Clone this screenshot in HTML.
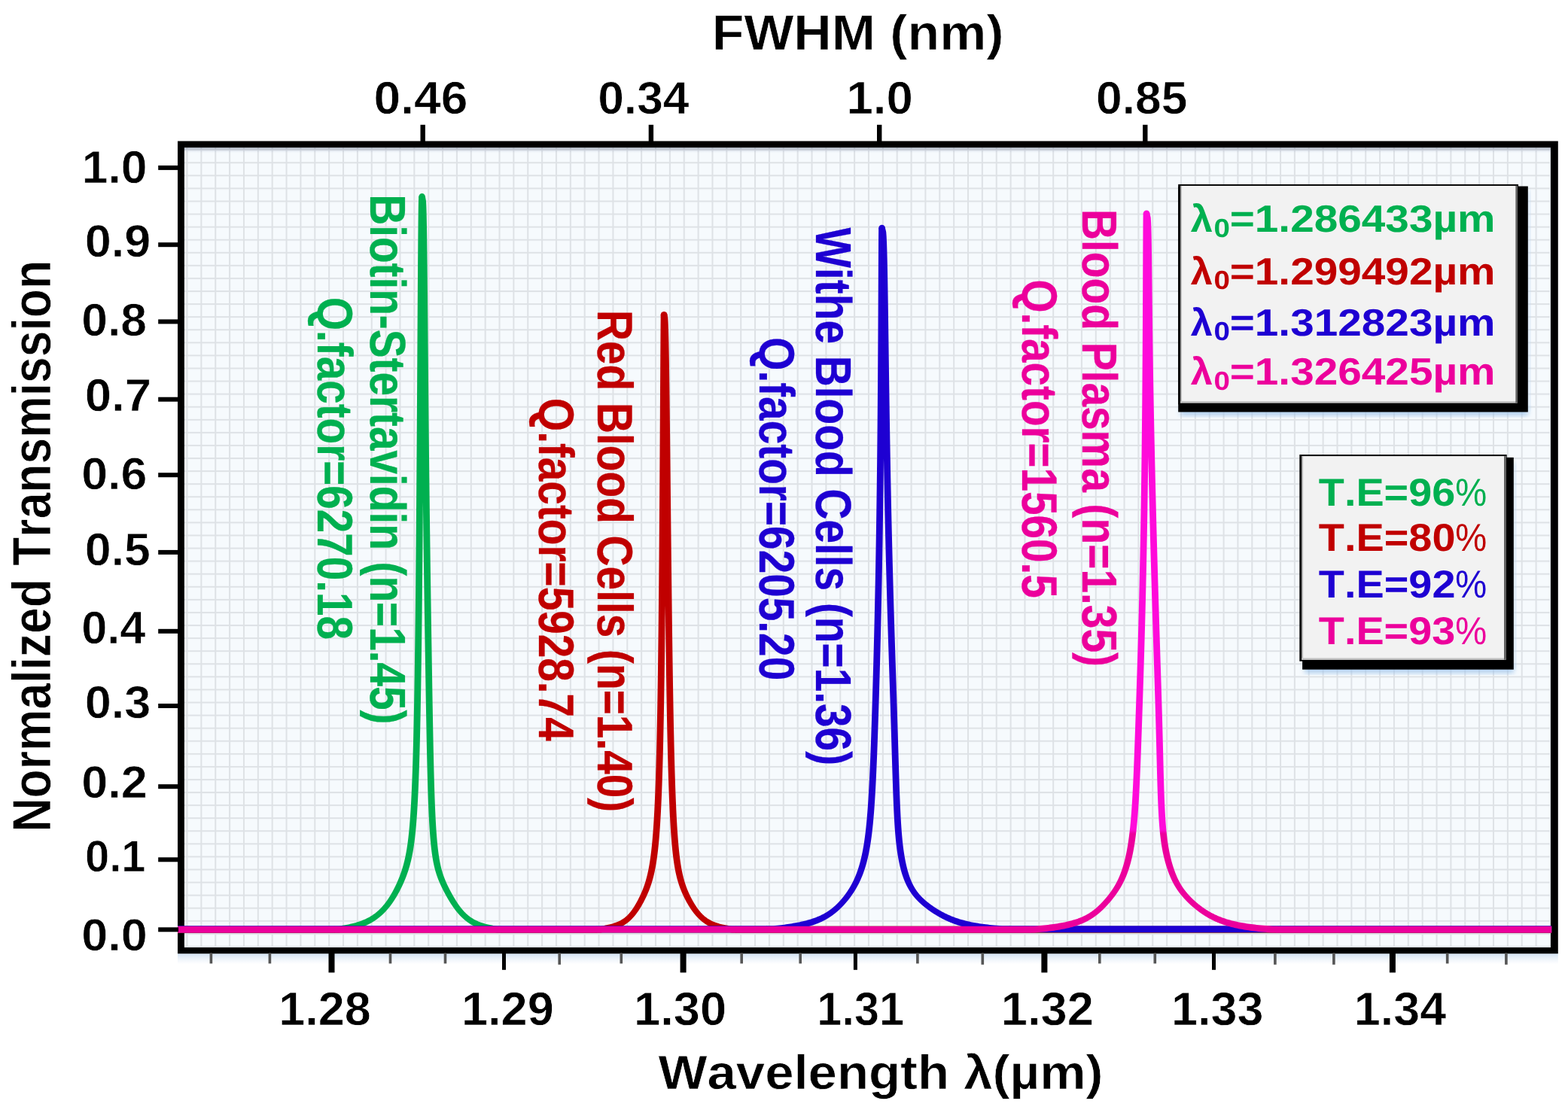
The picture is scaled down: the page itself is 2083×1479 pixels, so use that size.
<!DOCTYPE html>
<html lang="en"><head><meta charset="utf-8"><title>Normalized Transmission vs Wavelength</title>
<style>html,body{margin:0;padding:0;background:#fff;}body{width:2083px;height:1479px;overflow:hidden;}svg{display:block;}text{font-family:"Liberation Sans",Arial,sans-serif;font-size:100px;white-space:pre;font-kerning:none;font-variant-ligatures:none;text-rendering:geometricPrecision;}</style>
</head><body>
<svg width="2083" height="1479" viewBox="0 0 2083 1479">
<defs>
<pattern id="grid" x="247.5" y="215.25" width="18.864" height="17.078" patternUnits="userSpaceOnUse">
<rect x="0" y="0" width="18.864" height="17.078" fill="#F6FAFD"/>
<rect x="0" y="0" width="2" height="17.078" fill="#DEE2E6"/><rect x="0" y="0" width="18.864" height="2" fill="#DEE2E6"/>
</pattern>
<linearGradient id="topsh" x1="0" y1="0" x2="0" y2="1"><stop offset="0" stop-color="#5a6478" stop-opacity="0.55"/><stop offset="0.45" stop-color="#7a88a8" stop-opacity="0.18"/><stop offset="1" stop-color="#8aa0d0" stop-opacity="0"/></linearGradient>
<linearGradient id="botsh" x1="0" y1="0" x2="0" y2="1"><stop offset="0" stop-color="#cfe0f2" stop-opacity="0.9"/><stop offset="1" stop-color="#dfeaf6" stop-opacity="0"/></linearGradient>
<linearGradient id="magg" gradientUnits="userSpaceOnUse" x1="0" y1="1102" x2="0" y2="1108"><stop offset="0" stop-color="#FF0ADA"/><stop offset="1" stop-color="#EC009C"/></linearGradient>
<clipPath id="plotclip"><rect x="236" y="189.6" width="1829.8" height="1075.7"/></clipPath>
<filter id="soft" x="-5%" y="-5%" width="110%" height="120%"><feGaussianBlur stdDeviation="3"/></filter>
</defs>
<rect width="2083" height="1479" fill="#fff"/>
<rect x="236" y="1267.3" width="1833.8" height="14" fill="url(#botsh)"/>
<rect x="238" y="189.6" width="1829.8" height="1075.7" fill="url(#grid)"/>
<rect x="238" y="196.1" width="1829.8" height="7" fill="url(#topsh)"/>
<path fill="#000" fill-rule="evenodd" d="M236 187.6H2069.8V1267.3H236Z M244.9 196H2060V1258.9H244.9Z"/>
<g clip-path="url(#plotclip)">
<g fill="#00B050">
<rect x="236" y="1230.8" width="208.83" height="8.8"/>
<rect x="665.39" y="1230.8" width="1395.81" height="8.8"/>
<circle cx="560.6" cy="261.5" r="4.4"/>
<path d="M556.21 261.32 L555.97 267.30 L555.85 273.28 L555.76 279.22 L555.68 285.15 L555.62 291.08 L555.55 297.01 L555.50 302.94 L555.44 308.87 L555.39 314.80 L555.34 320.72 L555.30 326.65 L555.25 332.58 L555.21 338.50 L555.16 344.43 L555.12 350.36 L555.08 356.28 L555.04 362.21 L555.00 368.14 L554.96 374.06 L554.92 379.99 L554.88 385.92 L554.85 391.84 L554.81 397.77 L554.77 403.69 L554.73 409.62 L554.70 415.55 L554.66 421.47 L554.63 427.40 L554.59 433.32 L554.55 439.25 L554.52 445.18 L554.48 451.10 L554.45 457.03 L554.41 462.95 L554.38 468.88 L554.34 474.81 L554.31 480.73 L554.27 486.66 L554.23 492.58 L554.20 498.51 L554.16 504.44 L554.13 510.36 L554.09 516.29 L554.05 522.21 L554.02 528.14 L553.98 534.06 L553.95 539.99 L553.91 545.92 L553.87 551.84 L553.83 557.77 L553.80 563.69 L553.76 569.62 L553.72 575.54 L553.68 581.47 L553.65 587.40 L553.61 593.32 L553.57 599.25 L553.53 605.17 L553.49 611.10 L553.45 617.02 L553.41 622.95 L553.37 628.88 L553.33 634.80 L553.28 640.73 L553.24 646.65 L553.20 652.58 L553.16 658.50 L553.11 664.43 L553.07 670.35 L553.02 676.28 L552.98 682.21 L552.93 688.13 L552.89 694.06 L552.84 699.98 L552.79 705.91 L552.75 711.83 L552.70 717.76 L552.65 723.68 L552.60 729.61 L552.55 735.53 L552.49 741.46 L552.44 747.38 L552.39 753.31 L552.33 759.23 L552.28 765.16 L552.22 771.09 L552.17 777.01 L552.11 782.94 L552.05 788.86 L551.99 794.79 L551.93 800.71 L551.87 806.64 L551.80 812.56 L551.74 818.49 L551.67 824.41 L551.60 830.34 L551.53 836.26 L551.46 842.19 L551.39 848.11 L551.32 854.03 L551.24 859.96 L551.16 865.88 L551.08 871.81 L551.00 877.73 L550.92 883.66 L550.83 889.58 L550.75 895.51 L550.66 901.43 L550.56 907.35 L550.47 913.28 L550.37 919.20 L550.27 925.12 L550.17 931.05 L550.06 936.97 L549.95 942.89 L549.83 948.82 L549.71 954.74 L549.59 960.66 L549.46 966.59 L549.33 972.51 L549.19 978.43 L549.05 984.35 L548.90 990.27 L548.74 996.19 L548.58 1002.11 L548.40 1008.03 L548.22 1013.95 L548.03 1019.87 L547.84 1025.79 L547.62 1031.71 L547.40 1037.62 L547.16 1043.54 L546.91 1049.45 L546.64 1055.36 L546.36 1061.27 L546.05 1067.18 L545.71 1073.09 L545.35 1078.99 L544.95 1084.90 L544.89 1085.79 L544.83 1086.69 L544.76 1087.58 L544.70 1088.48 L544.63 1089.37 L544.56 1090.27 L544.50 1091.17 L544.43 1092.06 L544.35 1092.96 L544.28 1093.85 L544.21 1094.75 L544.14 1095.65 L544.06 1096.54 L543.99 1097.44 L543.91 1098.33 L543.83 1099.23 L543.75 1100.12 L543.67 1101.01 L543.59 1101.91 L543.50 1102.80 L543.42 1103.70 L543.33 1104.59 L543.24 1105.48 L543.15 1106.38 L543.06 1107.27 L542.97 1108.16 L542.87 1109.06 L542.78 1109.95 L542.68 1110.84 L542.58 1111.73 L542.48 1112.63 L542.38 1113.52 L542.27 1114.41 L542.16 1115.30 L542.06 1116.19 L541.94 1117.08 L541.83 1117.97 L541.72 1118.86 L541.60 1119.75 L541.48 1120.64 L541.36 1121.53 L541.23 1122.42 L541.10 1123.31 L540.97 1124.19 L540.84 1125.08 L540.70 1125.97 L540.57 1126.86 L540.43 1127.74 L540.28 1128.63 L540.18 1129.22 L540.08 1129.81 L539.98 1130.40 L539.88 1130.99 L539.78 1131.58 L539.67 1132.17 L539.57 1132.76 L539.46 1133.35 L539.35 1133.94 L539.24 1134.53 L539.12 1135.12 L539.01 1135.70 L538.89 1136.29 L538.78 1136.88 L538.66 1137.47 L538.53 1138.06 L538.41 1138.65 L538.29 1139.23 L538.16 1139.82 L538.03 1140.41 L537.90 1141.00 L537.77 1141.59 L537.63 1142.17 L537.50 1142.76 L537.36 1143.35 L537.22 1143.93 L537.07 1144.52 L536.93 1145.11 L536.78 1145.69 L536.63 1146.28 L536.48 1146.87 L536.33 1147.45 L536.17 1148.04 L536.01 1148.63 L535.85 1149.21 L535.69 1149.80 L535.53 1150.39 L535.36 1150.97 L535.19 1151.56 L535.02 1152.15 L534.85 1152.73 L534.67 1153.32 L534.49 1153.90 L534.31 1154.49 L534.12 1155.08 L533.94 1155.66 L533.75 1156.25 L533.56 1156.84 L533.36 1157.42 L533.17 1158.01 L532.97 1158.60 L532.77 1159.18 L532.56 1159.77 L532.36 1160.36 L532.15 1160.94 L531.94 1161.53 L531.72 1162.12 L531.50 1162.71 L531.28 1163.29 L531.06 1163.88 L530.84 1164.47 L530.61 1165.06 L530.38 1165.64 L530.15 1166.23 L529.91 1166.82 L529.68 1167.41 L529.44 1167.99 L529.19 1168.58 L528.95 1169.17 L528.70 1169.76 L528.45 1170.35 L528.20 1170.94 L527.94 1171.52 L527.68 1172.11 L527.42 1172.70 L527.16 1173.29 L526.89 1173.88 L526.62 1174.47 L526.35 1175.05 L526.08 1175.64 L525.80 1176.23 L525.52 1176.82 L525.24 1177.41 L524.95 1178.00 L524.66 1178.58 L524.37 1179.17 L524.08 1179.76 L523.78 1180.35 L523.48 1180.94 L523.18 1181.53 L522.87 1182.11 L522.57 1182.70 L522.25 1183.29 L521.94 1183.88 L521.62 1184.46 L521.30 1185.05 L520.97 1185.64 L520.65 1186.22 L520.31 1186.81 L519.98 1187.40 L519.64 1187.98 L519.30 1188.57 L518.95 1189.15 L518.60 1189.74 L518.25 1190.33 L517.89 1190.91 L517.53 1191.50 L517.16 1192.08 L516.79 1192.66 L516.41 1193.25 L516.03 1193.83 L515.65 1194.42 L515.26 1195.00 L514.86 1195.58 L514.46 1196.16 L514.06 1196.75 L513.64 1197.33 L513.23 1197.91 L512.80 1198.49 L512.37 1199.07 L511.94 1199.65 L511.49 1200.23 L511.04 1200.81 L510.58 1201.39 L510.12 1201.96 L509.64 1202.54 L509.16 1203.12 L508.67 1203.69 L508.17 1204.27 L507.67 1204.85 L507.15 1205.42 L506.62 1205.99 L506.08 1206.57 L505.53 1207.14 L504.97 1207.71 L504.39 1208.28 L503.81 1208.85 L503.21 1209.42 L502.59 1209.99 L501.96 1210.56 L501.32 1211.12 L500.66 1211.69 L499.98 1212.25 L499.28 1212.82 L498.57 1213.38 L497.83 1213.94 L497.06 1214.51 L496.68 1214.78 L496.29 1215.06 L495.89 1215.34 L495.48 1215.62 L495.07 1215.90 L494.65 1216.18 L494.23 1216.46 L493.79 1216.74 L493.35 1217.02 L492.90 1217.30 L492.45 1217.57 L491.98 1217.85 L491.51 1218.13 L491.03 1218.41 L490.54 1218.68 L490.04 1218.96 L489.53 1219.24 L489.01 1219.52 L488.48 1219.79 L487.93 1220.07 L487.38 1220.35 L486.82 1220.62 L486.24 1220.90 L485.65 1221.17 L485.04 1221.45 L484.42 1221.73 L483.79 1222.00 L483.14 1222.28 L482.47 1222.56 L481.79 1222.83 L481.09 1223.11 L480.37 1223.39 L479.63 1223.67 L478.87 1223.94 L478.09 1224.22 L477.29 1224.50 L476.46 1224.78 L475.60 1225.06 L474.72 1225.34 L473.81 1225.62 L472.87 1225.89 L471.89 1226.18 L470.88 1226.46 L469.84 1226.74 L468.75 1227.02 L467.62 1227.30 L466.45 1227.58 L465.22 1227.87 L463.95 1228.15 L462.62 1228.44 L461.22 1228.72 L459.76 1229.01 L458.23 1229.29 L456.62 1229.58 L454.92 1229.87 L453.13 1230.16 L451.23 1230.45 L449.59 1230.66 L443.72 1230.80 L443.94 1239.60 L450.08 1239.44 L452.53 1239.05 L454.50 1238.74 L456.37 1238.43 L458.14 1238.12 L459.82 1237.80 L461.42 1237.49 L462.96 1237.17 L464.42 1236.86 L465.83 1236.54 L467.18 1236.23 L468.47 1235.91 L469.72 1235.59 L470.92 1235.27 L472.08 1234.95 L473.19 1234.63 L474.27 1234.32 L475.32 1233.99 L476.33 1233.67 L477.31 1233.35 L478.26 1233.03 L479.18 1232.71 L480.07 1232.39 L480.94 1232.06 L481.79 1231.74 L482.61 1231.42 L483.42 1231.10 L484.20 1230.77 L484.96 1230.45 L485.70 1230.12 L486.43 1229.80 L487.14 1229.48 L487.83 1229.15 L488.50 1228.83 L489.16 1228.50 L489.81 1228.18 L490.44 1227.86 L491.06 1227.53 L491.67 1227.21 L492.26 1226.88 L492.85 1226.56 L493.42 1226.24 L493.98 1225.91 L494.53 1225.59 L495.07 1225.27 L495.60 1224.94 L496.12 1224.62 L496.63 1224.30 L497.13 1223.98 L497.62 1223.65 L498.11 1223.33 L498.58 1223.01 L499.05 1222.69 L499.51 1222.36 L499.97 1222.04 L500.42 1221.72 L500.86 1221.40 L501.29 1221.08 L501.73 1220.75 L502.55 1220.12 L503.36 1219.48 L504.15 1218.84 L504.92 1218.21 L505.67 1217.57 L506.40 1216.93 L507.11 1216.30 L507.81 1215.67 L508.48 1215.03 L509.15 1214.40 L509.79 1213.77 L510.43 1213.14 L511.05 1212.51 L511.65 1211.88 L512.25 1211.25 L512.83 1210.63 L513.40 1210.00 L513.96 1209.37 L514.51 1208.75 L515.05 1208.12 L515.58 1207.50 L516.10 1206.87 L516.61 1206.25 L517.12 1205.63 L517.61 1205.01 L518.10 1204.38 L518.58 1203.76 L519.05 1203.14 L519.51 1202.52 L519.97 1201.90 L520.42 1201.28 L520.87 1200.66 L521.30 1200.04 L521.73 1199.43 L522.16 1198.81 L522.58 1198.19 L522.99 1197.57 L523.40 1196.96 L523.81 1196.34 L524.20 1195.72 L524.60 1195.11 L524.99 1194.49 L525.37 1193.87 L525.75 1193.26 L526.12 1192.64 L526.49 1192.03 L526.86 1191.41 L527.22 1190.80 L527.58 1190.18 L527.93 1189.57 L528.28 1188.95 L528.63 1188.34 L528.97 1187.73 L529.31 1187.11 L529.65 1186.50 L529.98 1185.88 L530.31 1185.27 L530.63 1184.66 L530.96 1184.05 L531.28 1183.43 L531.59 1182.82 L531.90 1182.21 L532.21 1181.59 L532.52 1180.98 L532.82 1180.37 L533.13 1179.75 L533.42 1179.14 L533.72 1178.53 L534.01 1177.92 L534.30 1177.30 L534.59 1176.69 L534.87 1176.08 L535.15 1175.47 L535.43 1174.85 L535.70 1174.24 L535.98 1173.63 L536.25 1173.01 L536.51 1172.40 L536.78 1171.79 L537.04 1171.17 L537.30 1170.56 L537.56 1169.95 L537.81 1169.33 L538.06 1168.72 L538.31 1168.11 L538.56 1167.49 L538.80 1166.88 L539.04 1166.27 L539.28 1165.65 L539.52 1165.04 L539.75 1164.42 L539.98 1163.81 L540.21 1163.20 L540.43 1162.58 L540.66 1161.97 L540.88 1161.35 L541.09 1160.74 L541.31 1160.12 L541.52 1159.51 L541.73 1158.90 L541.94 1158.28 L542.14 1157.67 L542.34 1157.05 L542.54 1156.44 L542.74 1155.82 L542.93 1155.21 L543.12 1154.59 L543.31 1153.98 L543.50 1153.36 L543.68 1152.75 L543.86 1152.13 L544.04 1151.52 L544.21 1150.90 L544.39 1150.29 L544.56 1149.67 L544.72 1149.06 L544.89 1148.44 L545.05 1147.83 L545.21 1147.21 L545.37 1146.60 L545.53 1145.99 L545.68 1145.37 L545.83 1144.76 L545.98 1144.14 L546.13 1143.53 L546.27 1142.92 L546.42 1142.30 L546.56 1141.69 L546.69 1141.08 L546.83 1140.46 L546.96 1139.85 L547.10 1139.24 L547.23 1138.62 L547.35 1138.01 L547.48 1137.40 L547.60 1136.79 L547.72 1136.17 L547.84 1135.56 L547.96 1134.95 L548.08 1134.34 L548.19 1133.73 L548.31 1133.11 L548.42 1132.50 L548.53 1131.89 L548.63 1131.28 L548.74 1130.67 L548.85 1130.06 L549.00 1129.14 L549.15 1128.23 L549.30 1127.31 L549.44 1126.40 L549.58 1125.49 L549.72 1124.57 L549.85 1123.66 L549.99 1122.75 L550.11 1121.83 L550.24 1120.92 L550.37 1120.01 L550.49 1119.10 L550.61 1118.18 L550.72 1117.27 L550.84 1116.36 L550.95 1115.45 L551.06 1114.54 L551.16 1113.63 L551.27 1112.72 L551.37 1111.81 L551.47 1110.90 L551.57 1109.99 L551.67 1109.08 L551.77 1108.17 L551.86 1107.27 L551.95 1106.36 L552.05 1105.45 L552.14 1104.54 L552.22 1103.63 L552.31 1102.73 L552.39 1101.82 L552.48 1100.91 L552.56 1100.00 L552.64 1099.10 L552.72 1098.19 L552.80 1097.28 L552.88 1096.38 L552.95 1095.47 L553.03 1094.56 L553.10 1093.66 L553.17 1092.75 L553.24 1091.85 L553.31 1090.94 L553.38 1090.03 L553.45 1089.13 L553.52 1088.22 L553.58 1087.32 L553.65 1086.41 L553.71 1085.50 L554.11 1079.56 L554.48 1073.61 L554.82 1067.66 L555.13 1061.72 L555.42 1055.78 L555.70 1049.84 L555.95 1043.90 L556.19 1037.96 L556.41 1032.03 L556.62 1026.09 L556.83 1020.16 L557.02 1014.23 L557.20 1008.29 L557.37 1002.36 L557.53 996.43 L557.69 990.50 L557.84 984.57 L557.98 978.64 L558.12 972.71 L558.26 966.78 L558.38 960.85 L558.51 954.92 L558.63 948.99 L558.74 943.06 L558.85 937.13 L558.96 931.21 L559.07 925.28 L559.17 919.35 L559.27 913.42 L559.36 907.49 L559.45 901.57 L559.55 895.64 L559.63 889.71 L559.72 883.78 L559.80 877.85 L559.88 871.93 L559.96 866.00 L560.04 860.07 L560.12 854.15 L560.19 848.22 L560.26 842.29 L560.33 836.36 L560.40 830.44 L560.47 824.51 L560.54 818.58 L560.60 812.66 L560.66 806.73 L560.73 800.80 L560.79 794.88 L560.85 788.95 L560.91 783.02 L560.97 777.10 L561.02 771.17 L561.08 765.24 L561.13 759.32 L561.19 753.39 L561.24 747.46 L561.29 741.54 L561.35 735.61 L561.40 729.68 L561.45 723.76 L561.50 717.83 L561.54 711.90 L561.59 705.98 L561.64 700.05 L561.69 694.13 L561.73 688.20 L561.78 682.27 L561.82 676.35 L561.87 670.42 L561.91 664.49 L561.96 658.57 L562.00 652.64 L562.04 646.71 L562.08 640.79 L562.13 634.86 L562.17 628.94 L562.21 623.01 L562.25 617.08 L562.29 611.16 L562.33 605.23 L562.37 599.31 L562.41 593.38 L562.45 587.45 L562.48 581.53 L562.52 575.60 L562.56 569.67 L562.60 563.75 L562.63 557.82 L562.67 551.90 L562.71 545.97 L562.75 540.04 L562.78 534.12 L562.82 528.19 L562.85 522.27 L562.89 516.34 L562.93 510.41 L562.96 504.49 L563.00 498.56 L563.03 492.64 L563.07 486.71 L563.10 480.78 L563.14 474.86 L563.18 468.93 L563.21 463.01 L563.25 457.08 L563.28 451.16 L563.32 445.23 L563.35 439.30 L563.39 433.38 L563.43 427.45 L563.46 421.53 L563.50 415.60 L563.53 409.67 L563.57 403.75 L563.61 397.82 L563.64 391.90 L563.68 385.97 L563.72 380.05 L563.76 374.12 L563.80 368.20 L563.84 362.27 L563.88 356.34 L563.92 350.42 L563.96 344.49 L564.00 338.57 L564.05 332.64 L564.09 326.72 L564.14 320.79 L564.19 314.87 L564.24 308.95 L564.30 303.02 L564.35 297.10 L564.42 291.18 L564.48 285.26 L564.56 279.34 L564.65 273.43 L564.76 267.56 L564.99 261.68Z M556.33 262.25 L557.30 267.91 L557.53 273.53 L557.72 279.41 L557.88 285.31 L558.01 291.22 L558.12 297.14 L558.22 303.05 L558.31 308.97 L558.40 314.89 L558.48 320.82 L558.55 326.74 L558.62 332.66 L558.69 338.59 L558.76 344.51 L558.82 350.43 L558.88 356.36 L558.94 362.28 L559.00 368.21 L559.05 374.13 L559.11 380.06 L559.16 385.98 L559.22 391.91 L559.27 397.83 L559.32 403.76 L559.37 409.69 L559.43 415.61 L559.48 421.54 L559.53 427.46 L559.58 433.39 L559.63 439.31 L559.68 445.24 L559.73 451.17 L559.78 457.09 L559.83 463.02 L559.89 468.94 L559.94 474.87 L559.99 480.80 L560.04 486.72 L560.09 492.65 L560.15 498.58 L560.20 504.50 L560.25 510.43 L560.31 516.35 L560.36 522.28 L560.42 528.21 L560.47 534.13 L560.53 540.06 L560.58 545.99 L560.64 551.91 L560.70 557.84 L560.76 563.76 L560.82 569.69 L560.88 575.62 L560.94 581.54 L561.00 587.47 L561.06 593.40 L561.12 599.32 L561.18 605.25 L561.25 611.18 L561.31 617.10 L561.38 623.03 L561.44 628.96 L561.51 634.88 L561.58 640.81 L561.65 646.73 L561.72 652.66 L561.79 658.59 L561.86 664.51 L561.93 670.44 L562.00 676.37 L562.07 682.29 L562.15 688.22 L562.22 694.15 L562.30 700.07 L562.38 706.00 L562.45 711.93 L562.53 717.85 L562.61 723.78 L562.69 729.71 L562.77 735.63 L562.85 741.56 L562.94 747.49 L563.02 753.41 L563.10 759.34 L563.19 765.26 L563.27 771.19 L563.36 777.12 L563.45 783.04 L563.54 788.97 L563.62 794.90 L563.71 800.82 L563.80 806.75 L563.89 812.68 L563.98 818.60 L564.08 824.53 L564.17 830.45 L564.26 836.38 L564.35 842.31 L564.44 848.23 L564.54 854.16 L564.63 860.08 L564.72 866.01 L564.82 871.94 L564.91 877.86 L565.01 883.79 L565.10 889.72 L565.20 895.64 L565.29 901.57 L565.39 907.50 L565.49 913.42 L565.58 919.35 L565.68 925.27 L565.78 931.20 L565.89 937.13 L565.99 943.06 L566.09 948.98 L566.20 954.91 L566.31 960.84 L566.42 966.76 L566.53 972.69 L566.64 978.62 L566.76 984.55 L566.88 990.48 L567.00 996.40 L567.13 1002.33 L567.26 1008.26 L567.40 1014.19 L567.54 1020.12 L567.69 1026.05 L567.84 1031.98 L568.00 1037.92 L568.17 1043.85 L568.35 1049.78 L568.55 1055.72 L568.75 1061.65 L568.97 1067.59 L569.21 1073.53 L569.46 1079.47 L569.74 1085.41 L569.79 1086.32 L569.83 1087.22 L569.88 1088.13 L569.93 1089.03 L569.98 1089.94 L570.02 1090.84 L570.07 1091.75 L570.12 1092.65 L570.17 1093.55 L570.22 1094.46 L570.28 1095.36 L570.33 1096.27 L570.38 1097.17 L570.44 1098.08 L570.49 1098.98 L570.55 1099.89 L570.61 1100.80 L570.67 1101.70 L570.73 1102.61 L570.79 1103.51 L570.85 1104.42 L570.91 1105.33 L570.98 1106.23 L571.04 1107.14 L571.11 1108.04 L571.18 1108.95 L571.25 1109.86 L571.32 1110.77 L571.39 1111.67 L571.46 1112.58 L571.54 1113.49 L571.61 1114.40 L571.69 1115.30 L571.77 1116.21 L571.85 1117.12 L571.93 1118.03 L572.02 1118.94 L572.10 1119.85 L572.19 1120.76 L572.28 1121.67 L572.37 1122.58 L572.47 1123.49 L572.56 1124.40 L572.66 1125.31 L572.76 1126.22 L572.87 1127.13 L572.97 1128.04 L573.08 1128.96 L573.19 1129.87 L573.30 1130.78 L573.42 1131.70 L573.54 1132.61 L573.66 1133.53 L573.79 1134.44 L573.92 1135.36 L574.05 1136.27 L574.19 1137.19 L574.32 1138.10 L574.47 1139.02 L574.62 1139.94 L574.77 1140.86 L574.87 1141.47 L574.98 1142.08 L575.08 1142.70 L575.19 1143.31 L575.30 1143.92 L575.42 1144.54 L575.53 1145.15 L575.65 1145.77 L575.77 1146.38 L575.90 1147.00 L576.02 1147.61 L576.15 1148.23 L576.28 1148.85 L576.41 1149.46 L576.55 1150.08 L576.69 1150.70 L576.83 1151.31 L576.98 1151.93 L577.13 1152.55 L577.28 1153.17 L577.43 1153.79 L577.59 1154.41 L577.75 1155.02 L577.91 1155.64 L578.08 1156.26 L578.25 1156.88 L578.43 1157.50 L578.60 1158.12 L578.78 1158.74 L578.97 1159.36 L579.16 1159.98 L579.35 1160.61 L579.55 1161.23 L579.75 1161.85 L579.95 1162.47 L580.16 1163.09 L580.37 1163.71 L580.59 1164.33 L580.81 1164.95 L581.03 1165.57 L581.26 1166.19 L581.49 1166.81 L581.72 1167.43 L581.96 1168.05 L582.20 1168.67 L582.45 1169.29 L582.70 1169.91 L582.95 1170.53 L583.21 1171.15 L583.47 1171.76 L583.73 1172.38 L584.00 1173.00 L584.27 1173.61 L584.54 1174.23 L584.82 1174.85 L585.10 1175.46 L585.38 1176.08 L585.67 1176.69 L585.95 1177.30 L586.24 1177.92 L586.54 1178.53 L586.83 1179.14 L587.13 1179.76 L587.43 1180.37 L587.73 1180.98 L588.04 1181.59 L588.35 1182.20 L588.66 1182.81 L588.97 1183.42 L589.28 1184.04 L589.60 1184.65 L589.92 1185.26 L590.24 1185.87 L590.56 1186.48 L590.89 1187.09 L591.22 1187.70 L591.55 1188.31 L591.88 1188.91 L592.22 1189.52 L592.55 1190.13 L592.89 1190.74 L593.24 1191.35 L593.58 1191.96 L593.93 1192.57 L594.28 1193.18 L594.63 1193.80 L594.99 1194.41 L595.35 1195.02 L595.71 1195.63 L596.08 1196.24 L596.45 1196.85 L596.82 1197.46 L597.19 1198.07 L597.57 1198.69 L597.96 1199.30 L598.34 1199.91 L598.73 1200.53 L599.13 1201.14 L599.53 1201.76 L599.93 1202.37 L600.34 1202.99 L600.76 1203.60 L601.18 1204.22 L601.60 1204.83 L602.03 1205.45 L602.47 1206.07 L602.91 1206.69 L603.36 1207.31 L603.82 1207.93 L604.28 1208.55 L604.75 1209.17 L605.23 1209.79 L605.72 1210.41 L606.21 1211.03 L606.71 1211.66 L607.23 1212.28 L607.75 1212.91 L608.28 1213.53 L608.82 1214.16 L609.38 1214.79 L609.95 1215.41 L610.52 1216.04 L611.12 1216.68 L611.72 1217.31 L612.34 1217.94 L612.98 1218.57 L613.63 1219.21 L614.30 1219.85 L614.99 1220.48 L615.70 1221.12 L616.43 1221.77 L617.18 1222.41 L617.95 1223.05 L618.76 1223.70 L619.57 1224.33 L620.01 1224.67 L620.44 1224.99 L620.88 1225.32 L621.33 1225.64 L621.79 1225.97 L622.26 1226.30 L622.74 1226.62 L623.22 1226.95 L623.72 1227.28 L624.23 1227.61 L624.75 1227.93 L625.28 1228.26 L625.82 1228.59 L626.38 1228.92 L626.95 1229.25 L627.53 1229.58 L628.13 1229.91 L628.74 1230.24 L629.37 1230.57 L630.02 1230.90 L630.69 1231.23 L631.37 1231.56 L632.08 1231.89 L632.80 1232.22 L633.56 1232.55 L634.33 1232.88 L635.13 1233.21 L635.96 1233.54 L636.82 1233.87 L637.71 1234.20 L638.64 1234.53 L639.60 1234.86 L640.60 1235.19 L641.65 1235.51 L642.74 1235.84 L643.89 1236.17 L645.09 1236.49 L646.36 1236.82 L647.69 1237.14 L649.10 1237.46 L650.59 1237.78 L652.18 1238.10 L653.88 1238.42 L655.69 1238.74 L657.66 1239.05 L660.14 1239.44 L666.28 1239.60 L666.49 1230.80 L660.63 1230.66 L658.95 1230.45 L657.10 1230.16 L655.38 1229.88 L653.78 1229.60 L652.29 1229.32 L650.90 1229.04 L649.59 1228.76 L648.36 1228.48 L647.19 1228.20 L646.09 1227.93 L645.04 1227.65 L644.04 1227.38 L643.08 1227.10 L642.17 1226.83 L641.30 1226.56 L640.46 1226.29 L639.65 1226.02 L638.88 1225.75 L638.13 1225.47 L637.41 1225.20 L636.72 1224.93 L636.04 1224.66 L635.39 1224.39 L634.76 1224.12 L634.15 1223.85 L633.55 1223.58 L632.98 1223.31 L632.41 1223.04 L631.87 1222.77 L631.33 1222.50 L630.82 1222.23 L630.31 1221.96 L629.81 1221.69 L629.33 1221.42 L628.86 1221.15 L628.40 1220.87 L627.95 1220.60 L627.50 1220.33 L627.07 1220.05 L626.65 1219.78 L626.23 1219.51 L625.82 1219.23 L625.42 1218.96 L625.03 1218.68 L624.65 1218.40 L624.28 1218.14 L623.53 1217.57 L622.82 1217.02 L622.13 1216.46 L621.46 1215.90 L620.81 1215.34 L620.18 1214.78 L619.56 1214.22 L618.96 1213.65 L618.38 1213.09 L617.81 1212.52 L617.26 1211.95 L616.71 1211.38 L616.18 1210.81 L615.66 1210.24 L615.15 1209.67 L614.65 1209.09 L614.16 1208.52 L613.68 1207.95 L613.21 1207.37 L612.75 1206.79 L612.29 1206.21 L611.84 1205.64 L611.40 1205.06 L610.96 1204.48 L610.53 1203.90 L610.11 1203.32 L609.69 1202.73 L609.28 1202.15 L608.87 1201.57 L608.47 1200.99 L608.07 1200.40 L607.68 1199.82 L607.29 1199.23 L606.91 1198.65 L606.53 1198.06 L606.15 1197.47 L605.78 1196.89 L605.41 1196.30 L605.04 1195.71 L604.68 1195.12 L604.32 1194.54 L603.97 1193.95 L603.61 1193.36 L603.26 1192.77 L602.91 1192.18 L602.57 1191.59 L602.23 1191.00 L601.89 1190.41 L601.55 1189.82 L601.22 1189.23 L600.88 1188.64 L600.55 1188.05 L600.23 1187.45 L599.90 1186.86 L599.58 1186.27 L599.26 1185.68 L598.94 1185.09 L598.62 1184.50 L598.31 1183.91 L598.00 1183.31 L597.69 1182.72 L597.38 1182.13 L597.08 1181.54 L596.78 1180.95 L596.48 1180.36 L596.18 1179.77 L595.88 1179.18 L595.59 1178.59 L595.30 1178.00 L595.02 1177.41 L594.73 1176.82 L594.45 1176.23 L594.17 1175.64 L593.90 1175.05 L593.63 1174.46 L593.36 1173.88 L593.09 1173.29 L592.83 1172.70 L592.57 1172.12 L592.32 1171.53 L592.06 1170.94 L591.82 1170.36 L591.57 1169.77 L591.33 1169.19 L591.09 1168.61 L590.86 1168.02 L590.63 1167.44 L590.40 1166.86 L590.18 1166.28 L589.96 1165.69 L589.74 1165.11 L589.53 1164.53 L589.32 1163.95 L589.12 1163.37 L588.92 1162.79 L588.72 1162.21 L588.53 1161.63 L588.34 1161.05 L588.15 1160.46 L587.97 1159.88 L587.79 1159.30 L587.62 1158.72 L587.44 1158.14 L587.27 1157.56 L587.11 1156.98 L586.95 1156.40 L586.79 1155.82 L586.63 1155.24 L586.48 1154.66 L586.32 1154.08 L586.18 1153.50 L586.03 1152.91 L585.89 1152.33 L585.75 1151.75 L585.61 1151.17 L585.48 1150.58 L585.35 1150.00 L585.22 1149.42 L585.09 1148.83 L584.96 1148.25 L584.84 1147.66 L584.72 1147.08 L584.60 1146.49 L584.49 1145.91 L584.37 1145.32 L584.26 1144.74 L584.15 1144.15 L584.04 1143.57 L583.94 1142.98 L583.83 1142.39 L583.73 1141.80 L583.63 1141.22 L583.53 1140.63 L583.44 1140.04 L583.34 1139.45 L583.20 1138.57 L583.06 1137.68 L582.93 1136.80 L582.80 1135.92 L582.67 1135.03 L582.55 1134.14 L582.43 1133.26 L582.31 1132.37 L582.19 1131.48 L582.08 1130.60 L581.97 1129.71 L581.86 1128.82 L581.76 1127.93 L581.66 1127.04 L581.56 1126.15 L581.46 1125.26 L581.36 1124.37 L581.27 1123.48 L581.18 1122.59 L581.09 1121.70 L581.00 1120.80 L580.91 1119.91 L580.83 1119.02 L580.74 1118.13 L580.66 1117.23 L580.58 1116.34 L580.50 1115.45 L580.43 1114.56 L580.35 1113.66 L580.28 1112.77 L580.20 1111.87 L580.13 1110.98 L580.06 1110.08 L580.00 1109.19 L579.93 1108.30 L579.86 1107.40 L579.80 1106.51 L579.73 1105.61 L579.67 1104.71 L579.61 1103.82 L579.55 1102.92 L579.49 1102.03 L579.43 1101.13 L579.37 1100.24 L579.32 1099.34 L579.26 1098.44 L579.21 1097.55 L579.15 1096.65 L579.10 1095.75 L579.05 1094.86 L579.00 1093.96 L578.95 1093.06 L578.90 1092.16 L578.85 1091.27 L578.80 1090.37 L578.75 1089.47 L578.70 1088.58 L578.66 1087.68 L578.61 1086.78 L578.57 1085.88 L578.52 1084.99 L578.25 1079.08 L577.99 1073.17 L577.76 1067.25 L577.54 1061.34 L577.34 1055.42 L577.15 1049.51 L576.97 1043.59 L576.80 1037.67 L576.64 1031.75 L576.48 1025.83 L576.33 1019.91 L576.19 1013.99 L576.06 1008.06 L575.93 1002.14 L575.80 996.22 L575.68 990.30 L575.56 984.37 L575.44 978.45 L575.33 972.52 L575.21 966.60 L575.10 960.68 L575.00 954.75 L574.89 948.83 L574.79 942.90 L574.68 936.98 L574.58 931.05 L574.48 925.13 L574.38 919.20 L574.28 913.28 L574.19 907.35 L574.09 901.43 L573.99 895.50 L573.90 889.57 L573.80 883.65 L573.71 877.72 L573.61 871.80 L573.52 865.87 L573.43 859.95 L573.33 854.02 L573.24 848.10 L573.15 842.17 L573.06 836.24 L572.97 830.32 L572.87 824.39 L572.78 818.47 L572.69 812.54 L572.60 806.62 L572.51 800.69 L572.42 794.77 L572.33 788.84 L572.25 782.91 L572.16 776.99 L572.07 771.06 L571.99 765.14 L571.90 759.21 L571.82 753.29 L571.73 747.36 L571.65 741.44 L571.57 735.51 L571.49 729.59 L571.41 723.66 L571.33 717.74 L571.25 711.81 L571.17 705.89 L571.10 699.96 L571.02 694.03 L570.95 688.11 L570.87 682.18 L570.80 676.26 L570.73 670.33 L570.66 664.41 L570.58 658.48 L570.51 652.56 L570.45 646.63 L570.38 640.71 L570.31 634.78 L570.24 628.86 L570.18 622.93 L570.11 617.01 L570.05 611.08 L569.98 605.16 L569.92 599.23 L569.86 593.30 L569.80 587.38 L569.74 581.45 L569.68 575.53 L569.62 569.60 L569.56 563.68 L569.50 557.75 L569.44 551.83 L569.38 545.90 L569.33 539.98 L569.27 534.05 L569.22 528.12 L569.16 522.20 L569.11 516.27 L569.05 510.35 L569.00 504.42 L568.95 498.50 L568.89 492.57 L568.84 486.65 L568.79 480.72 L568.74 474.79 L568.69 468.87 L568.63 462.94 L568.58 457.02 L568.53 451.09 L568.48 445.17 L568.43 439.24 L568.38 433.31 L568.33 427.39 L568.28 421.46 L568.23 415.54 L568.17 409.61 L568.12 403.68 L568.07 397.76 L568.02 391.83 L567.96 385.90 L567.91 379.98 L567.85 374.05 L567.80 368.12 L567.74 362.20 L567.68 356.27 L567.62 350.34 L567.56 344.42 L567.49 338.49 L567.42 332.56 L567.35 326.63 L567.28 320.70 L567.20 314.77 L567.11 308.84 L567.02 302.91 L566.92 296.98 L566.80 291.04 L566.67 285.10 L566.52 279.15 L566.32 273.17 L565.99 266.94 L564.87 260.75Z"/>
</g>
<g fill="#C00000">
<rect x="236" y="1230.8" width="556.77" height="8.8"/>
<rect x="977.32" y="1230.8" width="1083.88" height="8.8"/>
<circle cx="882.1" cy="418.3" r="4.4"/>
<path d="M877.70 418.26 L877.66 423.05 L877.61 427.85 L877.56 432.66 L877.52 437.46 L877.49 442.26 L877.45 447.06 L877.42 451.85 L877.39 456.65 L877.36 461.45 L877.32 466.25 L877.29 471.05 L877.26 475.85 L877.23 480.64 L877.20 485.44 L877.18 490.24 L877.15 495.04 L877.12 499.84 L877.09 504.64 L877.06 509.43 L877.03 514.23 L877.01 519.03 L876.98 523.83 L876.95 528.62 L876.92 533.42 L876.89 538.22 L876.86 543.02 L876.84 547.82 L876.81 552.61 L876.78 557.41 L876.75 562.21 L876.72 567.01 L876.69 571.80 L876.67 576.60 L876.64 581.40 L876.61 586.20 L876.58 591.00 L876.55 595.79 L876.52 600.59 L876.49 605.39 L876.46 610.19 L876.43 614.98 L876.40 619.78 L876.37 624.58 L876.34 629.38 L876.31 634.17 L876.28 638.97 L876.25 643.77 L876.21 648.57 L876.18 653.36 L876.15 658.16 L876.12 662.96 L876.08 667.76 L876.05 672.55 L876.02 677.35 L875.98 682.15 L875.95 686.95 L875.91 691.75 L875.88 696.54 L875.84 701.34 L875.81 706.14 L875.77 710.93 L875.73 715.73 L875.70 720.53 L875.66 725.33 L875.62 730.12 L875.58 734.92 L875.55 739.72 L875.51 744.52 L875.47 749.31 L875.43 754.11 L875.38 758.91 L875.34 763.71 L875.30 768.50 L875.26 773.30 L875.22 778.10 L875.17 782.90 L875.13 787.69 L875.08 792.49 L875.04 797.29 L874.99 802.08 L874.94 806.88 L874.90 811.68 L874.85 816.48 L874.80 821.27 L874.75 826.07 L874.70 830.87 L874.64 835.66 L874.59 840.46 L874.54 845.26 L874.48 850.06 L874.43 854.85 L874.37 859.65 L874.31 864.45 L874.25 869.24 L874.19 874.04 L874.13 878.84 L874.07 883.63 L874.01 888.43 L873.94 893.23 L873.88 898.02 L873.81 902.82 L873.74 907.62 L873.67 912.41 L873.60 917.21 L873.52 922.00 L873.45 926.80 L873.37 931.60 L873.29 936.39 L873.21 941.19 L873.12 945.98 L873.04 950.78 L872.95 955.58 L872.86 960.37 L872.76 965.17 L872.67 969.96 L872.57 974.76 L872.47 979.55 L872.36 984.35 L872.25 989.14 L872.14 993.94 L872.02 998.73 L871.90 1003.52 L871.77 1008.32 L871.64 1013.11 L871.51 1017.90 L871.37 1022.70 L871.22 1027.49 L871.07 1032.28 L870.91 1037.07 L870.75 1041.86 L870.57 1046.65 L870.39 1051.44 L870.20 1056.23 L870.00 1061.02 L869.79 1065.81 L869.57 1070.60 L869.34 1075.38 L869.09 1080.17 L868.83 1084.96 L868.78 1085.85 L868.73 1086.75 L868.68 1087.65 L868.63 1088.54 L868.57 1089.44 L868.52 1090.34 L868.46 1091.24 L868.41 1092.14 L868.35 1093.03 L868.30 1093.93 L868.24 1094.83 L868.18 1095.73 L868.12 1096.62 L868.06 1097.52 L868.00 1098.42 L867.94 1099.31 L867.88 1100.21 L867.82 1101.11 L867.75 1102.00 L867.69 1102.90 L867.63 1103.80 L867.56 1104.69 L867.49 1105.59 L867.42 1106.49 L867.36 1107.38 L867.29 1108.28 L867.22 1109.18 L867.14 1110.07 L867.07 1110.97 L867.00 1111.86 L866.92 1112.76 L866.85 1113.66 L866.77 1114.55 L866.69 1115.45 L866.62 1116.34 L866.54 1117.24 L866.45 1118.13 L866.37 1119.03 L866.29 1119.92 L866.20 1120.81 L866.12 1121.71 L866.03 1122.60 L865.94 1123.50 L865.85 1124.39 L865.76 1125.28 L865.66 1126.18 L865.57 1127.07 L865.47 1127.96 L865.37 1128.86 L865.27 1129.75 L865.17 1130.64 L865.07 1131.53 L864.96 1132.43 L864.85 1133.32 L864.75 1134.21 L864.63 1135.10 L864.52 1135.99 L864.41 1136.88 L864.29 1137.77 L864.17 1138.66 L864.05 1139.55 L863.93 1140.44 L863.80 1141.33 L863.67 1142.22 L863.54 1143.11 L863.41 1144.00 L863.27 1144.89 L863.13 1145.77 L862.99 1146.66 L862.84 1147.55 L862.75 1148.14 L862.65 1148.73 L862.55 1149.32 L862.45 1149.91 L862.34 1150.50 L862.24 1151.09 L862.13 1151.68 L862.02 1152.27 L861.91 1152.86 L861.80 1153.45 L861.69 1154.04 L861.58 1154.63 L861.46 1155.22 L861.34 1155.81 L861.23 1156.39 L861.10 1156.98 L860.98 1157.57 L860.86 1158.16 L860.73 1158.75 L860.60 1159.33 L860.47 1159.92 L860.34 1160.51 L860.21 1161.09 L860.07 1161.68 L859.93 1162.27 L859.79 1162.85 L859.65 1163.44 L859.51 1164.03 L859.36 1164.61 L859.21 1165.20 L859.06 1165.78 L858.91 1166.37 L858.75 1166.95 L858.59 1167.54 L858.43 1168.12 L858.27 1168.71 L858.10 1169.29 L857.94 1169.88 L857.76 1170.46 L857.59 1171.04 L857.41 1171.63 L857.24 1172.21 L857.05 1172.80 L856.87 1173.38 L856.68 1173.96 L856.49 1174.55 L856.30 1175.13 L856.10 1175.72 L855.90 1176.30 L855.70 1176.88 L855.49 1177.47 L855.28 1178.05 L855.07 1178.64 L854.86 1179.22 L854.64 1179.80 L854.42 1180.39 L854.19 1180.97 L853.97 1181.56 L853.74 1182.14 L853.50 1182.73 L853.27 1183.31 L853.03 1183.90 L852.78 1184.48 L852.54 1185.07 L852.29 1185.66 L852.03 1186.24 L851.78 1186.83 L851.52 1187.42 L851.26 1188.00 L850.99 1188.59 L850.72 1189.18 L850.45 1189.76 L850.17 1190.35 L849.90 1190.94 L849.62 1191.52 L849.33 1192.11 L849.04 1192.70 L848.75 1193.29 L848.46 1193.87 L848.16 1194.46 L847.86 1195.05 L847.56 1195.63 L847.25 1196.22 L846.94 1196.81 L846.63 1197.39 L846.32 1197.98 L846.00 1198.57 L845.67 1199.15 L845.35 1199.74 L845.02 1200.32 L844.68 1200.91 L844.34 1201.49 L844.00 1202.07 L843.65 1202.66 L843.30 1203.24 L842.95 1203.82 L842.59 1204.40 L842.22 1204.98 L841.85 1205.56 L841.48 1206.14 L841.10 1206.72 L840.71 1207.30 L840.31 1207.88 L839.91 1208.45 L839.51 1209.03 L839.09 1209.60 L838.67 1210.17 L838.24 1210.75 L837.80 1211.32 L837.35 1211.89 L836.88 1212.45 L836.41 1213.02 L835.93 1213.59 L835.43 1214.15 L834.92 1214.71 L834.40 1215.27 L833.86 1215.83 L833.30 1216.39 L832.73 1216.94 L832.13 1217.49 L831.51 1218.04 L830.87 1218.59 L830.20 1219.14 L829.51 1219.68 L828.77 1220.24 L828.41 1220.49 L828.02 1220.76 L827.63 1221.03 L827.23 1221.30 L826.81 1221.56 L826.39 1221.83 L825.95 1222.10 L825.50 1222.36 L825.04 1222.63 L824.57 1222.89 L824.08 1223.16 L823.58 1223.42 L823.06 1223.68 L822.52 1223.95 L821.97 1224.21 L821.40 1224.48 L820.80 1224.74 L820.18 1225.00 L819.54 1225.27 L818.88 1225.53 L818.19 1225.80 L817.47 1226.06 L816.71 1226.33 L815.93 1226.60 L815.11 1226.87 L814.24 1227.13 L813.34 1227.40 L812.38 1227.68 L811.38 1227.95 L810.32 1228.22 L809.20 1228.50 L808.01 1228.77 L806.75 1229.05 L805.41 1229.33 L803.98 1229.61 L802.45 1229.89 L800.81 1230.17 L799.04 1230.46 L797.52 1230.66 L791.66 1230.80 L791.88 1239.60 L798.02 1239.44 L800.41 1239.04 L802.27 1238.73 L804.01 1238.41 L805.64 1238.09 L807.18 1237.77 L808.62 1237.45 L809.98 1237.12 L811.27 1236.80 L812.49 1236.47 L813.66 1236.15 L814.76 1235.82 L815.81 1235.49 L816.82 1235.16 L817.78 1234.83 L818.71 1234.49 L819.59 1234.16 L820.44 1233.83 L821.25 1233.49 L822.04 1233.15 L822.79 1232.82 L823.52 1232.48 L824.23 1232.15 L824.91 1231.81 L825.57 1231.47 L826.20 1231.14 L826.82 1230.80 L827.42 1230.46 L828.00 1230.13 L828.57 1229.79 L829.11 1229.46 L829.65 1229.12 L830.17 1228.79 L830.67 1228.45 L831.16 1228.12 L831.64 1227.78 L832.11 1227.45 L832.57 1227.12 L833.01 1226.79 L833.46 1226.44 L834.29 1225.80 L835.10 1225.14 L835.87 1224.48 L836.62 1223.83 L837.34 1223.18 L838.03 1222.53 L838.70 1221.88 L839.34 1221.24 L839.97 1220.59 L840.57 1219.95 L841.16 1219.31 L841.73 1218.68 L842.29 1218.04 L842.83 1217.41 L843.36 1216.77 L843.87 1216.14 L844.37 1215.51 L844.86 1214.88 L845.34 1214.25 L845.81 1213.62 L846.27 1213.00 L846.72 1212.37 L847.16 1211.75 L847.60 1211.13 L848.02 1210.50 L848.44 1209.88 L848.85 1209.26 L849.25 1208.64 L849.65 1208.02 L850.04 1207.40 L850.43 1206.78 L850.81 1206.16 L851.18 1205.55 L851.55 1204.93 L851.92 1204.31 L852.28 1203.70 L852.63 1203.08 L852.98 1202.47 L853.33 1201.85 L853.67 1201.24 L854.01 1200.62 L854.35 1200.01 L854.68 1199.39 L855.01 1198.78 L855.33 1198.16 L855.65 1197.55 L855.97 1196.93 L856.28 1196.32 L856.59 1195.71 L856.90 1195.09 L857.21 1194.48 L857.51 1193.86 L857.80 1193.25 L858.10 1192.64 L858.39 1192.02 L858.68 1191.41 L858.96 1190.79 L859.25 1190.18 L859.53 1189.56 L859.80 1188.95 L860.08 1188.33 L860.35 1187.72 L860.61 1187.10 L860.88 1186.49 L861.14 1185.87 L861.39 1185.25 L861.65 1184.64 L861.90 1184.02 L862.15 1183.40 L862.39 1182.79 L862.63 1182.17 L862.87 1181.55 L863.11 1180.94 L863.34 1180.32 L863.56 1179.70 L863.79 1179.09 L864.01 1178.47 L864.23 1177.85 L864.44 1177.23 L864.66 1176.62 L864.87 1176.00 L865.07 1175.38 L865.27 1174.76 L865.47 1174.15 L865.67 1173.53 L865.86 1172.91 L866.05 1172.30 L866.24 1171.68 L866.42 1171.06 L866.60 1170.45 L866.78 1169.83 L866.96 1169.21 L867.13 1168.60 L867.30 1167.98 L867.47 1167.37 L867.63 1166.75 L867.79 1166.13 L867.95 1165.52 L868.11 1164.90 L868.26 1164.29 L868.41 1163.67 L868.56 1163.06 L868.71 1162.45 L868.85 1161.83 L868.99 1161.22 L869.13 1160.60 L869.27 1159.99 L869.41 1159.38 L869.54 1158.76 L869.67 1158.15 L869.80 1157.54 L869.93 1156.92 L870.05 1156.31 L870.17 1155.70 L870.30 1155.09 L870.41 1154.48 L870.53 1153.86 L870.65 1153.25 L870.76 1152.64 L870.87 1152.03 L870.98 1151.42 L871.09 1150.81 L871.20 1150.20 L871.31 1149.59 L871.41 1148.98 L871.56 1148.06 L871.71 1147.15 L871.86 1146.24 L872.01 1145.32 L872.15 1144.41 L872.28 1143.49 L872.42 1142.58 L872.55 1141.67 L872.68 1140.76 L872.81 1139.85 L872.94 1138.93 L873.06 1138.02 L873.18 1137.11 L873.30 1136.20 L873.41 1135.29 L873.53 1134.38 L873.64 1133.47 L873.75 1132.56 L873.85 1131.65 L873.96 1130.74 L874.06 1129.83 L874.17 1128.92 L874.27 1128.01 L874.36 1127.11 L874.46 1126.20 L874.56 1125.29 L874.65 1124.38 L874.74 1123.47 L874.83 1122.57 L874.92 1121.66 L875.01 1120.75 L875.09 1119.84 L875.18 1118.94 L875.26 1118.03 L875.35 1117.12 L875.43 1116.22 L875.51 1115.31 L875.59 1114.40 L875.66 1113.50 L875.74 1112.59 L875.81 1111.68 L875.89 1110.78 L875.96 1109.87 L876.03 1108.97 L876.10 1108.06 L876.17 1107.16 L876.24 1106.25 L876.31 1105.34 L876.38 1104.44 L876.44 1103.53 L876.51 1102.63 L876.57 1101.72 L876.64 1100.82 L876.70 1099.91 L876.76 1099.01 L876.82 1098.11 L876.88 1097.20 L876.94 1096.30 L877.00 1095.39 L877.06 1094.49 L877.12 1093.58 L877.17 1092.68 L877.23 1091.78 L877.29 1090.87 L877.34 1089.97 L877.39 1089.06 L877.45 1088.16 L877.50 1087.26 L877.55 1086.35 L877.60 1085.44 L877.87 1080.64 L878.12 1075.83 L878.35 1071.02 L878.58 1066.21 L878.79 1061.40 L878.99 1056.59 L879.18 1051.79 L879.36 1046.98 L879.54 1042.17 L879.70 1037.37 L879.86 1032.57 L880.02 1027.76 L880.16 1022.96 L880.30 1018.16 L880.44 1013.35 L880.57 1008.55 L880.69 1003.75 L880.82 998.95 L880.93 994.15 L881.05 989.35 L881.16 984.54 L881.26 979.74 L881.36 974.94 L881.46 970.14 L881.56 965.34 L881.65 960.54 L881.75 955.74 L881.83 950.94 L881.92 946.14 L882.01 941.34 L882.09 936.54 L882.17 931.74 L882.24 926.94 L882.32 922.14 L882.39 917.34 L882.47 912.54 L882.54 907.74 L882.61 902.94 L882.68 898.15 L882.74 893.35 L882.81 888.55 L882.87 883.75 L882.93 878.95 L882.99 874.15 L883.05 869.35 L883.11 864.55 L883.17 859.75 L883.23 854.96 L883.28 850.16 L883.34 845.36 L883.39 840.56 L883.44 835.76 L883.50 830.96 L883.55 826.16 L883.60 821.36 L883.65 816.57 L883.69 811.77 L883.74 806.97 L883.79 802.17 L883.84 797.37 L883.88 792.57 L883.93 787.77 L883.97 782.98 L884.02 778.18 L884.06 773.38 L884.10 768.58 L884.14 763.78 L884.18 758.98 L884.23 754.19 L884.27 749.39 L884.31 744.59 L884.34 739.79 L884.38 734.99 L884.42 730.19 L884.46 725.40 L884.50 720.60 L884.53 715.80 L884.57 711.00 L884.61 706.20 L884.64 701.41 L884.68 696.61 L884.71 691.81 L884.75 687.01 L884.78 682.21 L884.82 677.41 L884.85 672.62 L884.88 667.82 L884.92 663.02 L884.95 658.22 L884.98 653.42 L885.01 648.63 L885.04 643.83 L885.08 639.03 L885.11 634.23 L885.14 629.43 L885.17 624.64 L885.20 619.84 L885.23 615.04 L885.26 610.24 L885.29 605.44 L885.32 600.65 L885.35 595.85 L885.38 591.05 L885.41 586.25 L885.44 581.45 L885.47 576.66 L885.49 571.86 L885.52 567.06 L885.55 562.26 L885.58 557.46 L885.61 552.67 L885.64 547.87 L885.66 543.07 L885.69 538.27 L885.72 533.47 L885.75 528.68 L885.78 523.88 L885.81 519.08 L885.83 514.28 L885.86 509.48 L885.89 504.69 L885.92 499.89 L885.95 495.09 L885.98 490.29 L886.00 485.50 L886.03 480.70 L886.06 475.90 L886.09 471.10 L886.12 466.31 L886.15 461.51 L886.19 456.71 L886.22 451.92 L886.25 447.12 L886.29 442.32 L886.32 437.53 L886.36 432.73 L886.41 427.94 L886.46 423.14 L886.50 418.34Z M877.83 419.04 L878.59 423.59 L878.81 428.10 L879.00 432.85 L879.15 437.63 L879.29 442.41 L879.41 447.19 L879.52 451.98 L879.62 456.77 L879.72 461.57 L879.81 466.36 L879.89 471.15 L879.97 475.95 L880.05 480.74 L880.13 485.54 L880.20 490.33 L880.27 495.13 L880.34 499.93 L880.40 504.72 L880.47 509.52 L880.53 514.31 L880.60 519.11 L880.66 523.91 L880.72 528.71 L880.78 533.50 L880.84 538.30 L880.89 543.10 L880.95 547.89 L881.01 552.69 L881.06 557.49 L881.12 562.29 L881.17 567.08 L881.23 571.88 L881.28 576.68 L881.33 581.48 L881.39 586.27 L881.44 591.07 L881.49 595.87 L881.54 600.67 L881.59 605.46 L881.64 610.26 L881.70 615.06 L881.75 619.86 L881.80 624.65 L881.85 629.45 L881.90 634.25 L881.95 639.05 L882.00 643.84 L882.05 648.64 L882.10 653.44 L882.15 658.24 L882.20 663.04 L882.25 667.83 L882.30 672.63 L882.35 677.43 L882.40 682.23 L882.45 687.03 L882.50 691.82 L882.55 696.62 L882.60 701.42 L882.66 706.22 L882.71 711.02 L882.76 715.81 L882.81 720.61 L882.86 725.41 L882.91 730.21 L882.97 735.01 L883.02 739.80 L883.07 744.60 L883.12 749.40 L883.18 754.20 L883.23 759.00 L883.29 763.79 L883.34 768.59 L883.40 773.39 L883.45 778.19 L883.51 782.99 L883.56 787.79 L883.62 792.58 L883.68 797.38 L883.73 802.18 L883.79 806.98 L883.85 811.78 L883.91 816.58 L883.97 821.37 L884.03 826.17 L884.09 830.97 L884.15 835.77 L884.22 840.57 L884.28 845.37 L884.34 850.16 L884.41 854.96 L884.48 859.76 L884.54 864.56 L884.61 869.36 L884.68 874.16 L884.75 878.96 L884.82 883.76 L884.89 888.55 L884.96 893.35 L885.04 898.15 L885.11 902.95 L885.19 907.75 L885.26 912.55 L885.34 917.35 L885.42 922.15 L885.51 926.95 L885.59 931.75 L885.67 936.55 L885.76 941.35 L885.85 946.14 L885.94 950.94 L886.03 955.74 L886.13 960.54 L886.22 965.34 L886.32 970.14 L886.43 974.94 L886.53 979.74 L886.64 984.54 L886.75 989.35 L886.86 994.15 L886.98 998.95 L887.10 1003.75 L887.22 1008.55 L887.35 1013.35 L887.48 1018.15 L887.62 1022.95 L887.76 1027.76 L887.90 1032.56 L888.06 1037.36 L888.21 1042.17 L888.38 1046.97 L888.55 1051.77 L888.73 1056.58 L888.91 1061.39 L889.11 1066.19 L889.32 1071.00 L889.53 1075.81 L889.76 1080.62 L890.00 1085.42 L890.05 1086.33 L890.10 1087.23 L890.14 1088.14 L890.19 1089.04 L890.24 1089.94 L890.29 1090.85 L890.34 1091.75 L890.39 1092.65 L890.44 1093.56 L890.50 1094.46 L890.55 1095.37 L890.60 1096.27 L890.66 1097.17 L890.71 1098.08 L890.76 1098.98 L890.82 1099.89 L890.88 1100.79 L890.93 1101.69 L890.99 1102.60 L891.05 1103.50 L891.11 1104.41 L891.17 1105.31 L891.23 1106.22 L891.30 1107.12 L891.36 1108.03 L891.42 1108.93 L891.49 1109.84 L891.55 1110.74 L891.62 1111.65 L891.69 1112.55 L891.76 1113.46 L891.83 1114.37 L891.90 1115.27 L891.97 1116.18 L892.04 1117.08 L892.12 1117.99 L892.19 1118.90 L892.27 1119.80 L892.35 1120.71 L892.42 1121.62 L892.50 1122.52 L892.59 1123.43 L892.67 1124.34 L892.75 1125.25 L892.84 1126.15 L892.93 1127.06 L893.02 1127.97 L893.11 1128.88 L893.20 1129.79 L893.29 1130.70 L893.39 1131.60 L893.49 1132.51 L893.59 1133.42 L893.69 1134.33 L893.79 1135.24 L893.90 1136.15 L894.00 1137.06 L894.11 1137.97 L894.23 1138.89 L894.34 1139.80 L894.46 1140.71 L894.58 1141.62 L894.70 1142.53 L894.82 1143.45 L894.95 1144.36 L895.08 1145.27 L895.21 1146.19 L895.35 1147.10 L895.49 1148.02 L895.63 1148.93 L895.78 1149.85 L895.93 1150.76 L896.08 1151.68 L896.19 1152.29 L896.29 1152.90 L896.40 1153.51 L896.51 1154.13 L896.62 1154.74 L896.74 1155.35 L896.85 1155.96 L896.97 1156.58 L897.09 1157.19 L897.21 1157.80 L897.34 1158.42 L897.46 1159.03 L897.59 1159.65 L897.72 1160.26 L897.85 1160.87 L897.99 1161.49 L898.13 1162.10 L898.27 1162.72 L898.41 1163.34 L898.56 1163.95 L898.70 1164.57 L898.85 1165.18 L899.01 1165.80 L899.16 1166.42 L899.32 1167.03 L899.49 1167.65 L899.65 1168.27 L899.82 1168.89 L899.99 1169.50 L900.17 1170.12 L900.34 1170.74 L900.52 1171.36 L900.71 1171.98 L900.89 1172.59 L901.09 1173.21 L901.28 1173.83 L901.48 1174.45 L901.68 1175.07 L901.88 1175.69 L902.09 1176.31 L902.30 1176.92 L902.51 1177.54 L902.73 1178.16 L902.95 1178.78 L903.18 1179.40 L903.41 1180.02 L903.64 1180.64 L903.88 1181.26 L904.12 1181.87 L904.36 1182.49 L904.61 1183.11 L904.86 1183.73 L905.11 1184.35 L905.37 1184.96 L905.63 1185.58 L905.89 1186.20 L906.16 1186.82 L906.43 1187.43 L906.71 1188.05 L906.99 1188.67 L907.27 1189.28 L907.56 1189.90 L907.84 1190.52 L908.14 1191.13 L908.43 1191.75 L908.73 1192.37 L909.04 1192.98 L909.34 1193.60 L909.66 1194.21 L909.97 1194.83 L910.29 1195.45 L910.61 1196.06 L910.94 1196.68 L911.27 1197.29 L911.60 1197.91 L911.94 1198.53 L912.28 1199.14 L912.63 1199.76 L912.98 1200.37 L913.33 1200.99 L913.69 1201.61 L914.06 1202.22 L914.43 1202.84 L914.80 1203.46 L915.18 1204.08 L915.56 1204.70 L915.96 1205.31 L916.35 1205.93 L916.75 1206.55 L917.16 1207.17 L917.58 1207.79 L918.00 1208.41 L918.43 1209.04 L918.86 1209.66 L919.31 1210.28 L919.76 1210.90 L920.22 1211.53 L920.68 1212.15 L921.16 1212.78 L921.65 1213.41 L922.15 1214.03 L922.65 1214.66 L923.17 1215.29 L923.70 1215.92 L924.25 1216.55 L924.80 1217.18 L925.37 1217.82 L925.96 1218.45 L926.56 1219.09 L927.17 1219.73 L927.81 1220.36 L928.46 1221.00 L929.14 1221.65 L929.83 1222.29 L930.55 1222.94 L931.29 1223.58 L932.06 1224.23 L932.86 1224.89 L933.68 1225.53 L934.12 1225.87 L934.55 1226.19 L935.00 1226.52 L935.45 1226.85 L935.92 1227.18 L936.39 1227.51 L936.88 1227.84 L937.38 1228.17 L937.89 1228.51 L938.41 1228.84 L938.95 1229.17 L939.50 1229.50 L940.07 1229.84 L940.65 1230.17 L941.25 1230.50 L941.86 1230.84 L942.50 1231.17 L943.15 1231.51 L943.83 1231.84 L944.53 1232.18 L945.25 1232.51 L945.99 1232.84 L946.77 1233.18 L947.57 1233.51 L948.41 1233.85 L949.27 1234.18 L950.18 1234.51 L951.12 1234.84 L952.11 1235.17 L953.14 1235.50 L954.23 1235.83 L955.37 1236.16 L956.57 1236.49 L957.84 1236.82 L959.18 1237.14 L960.61 1237.47 L962.14 1237.79 L963.77 1238.11 L965.53 1238.43 L967.43 1238.75 L969.50 1239.06 L972.08 1239.44 L978.21 1239.60 L978.43 1230.80 L972.56 1230.66 L970.73 1230.44 L968.77 1230.15 L966.98 1229.87 L965.33 1229.59 L963.81 1229.31 L962.39 1229.03 L961.07 1228.75 L959.83 1228.48 L958.67 1228.20 L957.58 1227.93 L956.54 1227.66 L955.56 1227.39 L954.63 1227.12 L953.74 1226.85 L952.90 1226.58 L952.09 1226.31 L951.32 1226.04 L950.58 1225.78 L949.86 1225.51 L949.18 1225.24 L948.52 1224.98 L947.88 1224.71 L947.27 1224.45 L946.67 1224.18 L946.10 1223.91 L945.54 1223.65 L945.00 1223.38 L944.48 1223.11 L943.97 1222.85 L943.47 1222.58 L942.99 1222.31 L942.52 1222.04 L942.06 1221.77 L941.61 1221.51 L941.18 1221.24 L940.75 1220.97 L940.34 1220.70 L939.93 1220.42 L939.53 1220.15 L939.14 1219.88 L938.76 1219.61 L938.40 1219.35 L937.66 1218.79 L936.96 1218.24 L936.29 1217.69 L935.64 1217.13 L935.01 1216.58 L934.40 1216.02 L933.81 1215.46 L933.24 1214.90 L932.68 1214.34 L932.14 1213.77 L931.61 1213.21 L931.09 1212.64 L930.59 1212.08 L930.10 1211.51 L929.62 1210.94 L929.14 1210.37 L928.68 1209.79 L928.23 1209.22 L927.79 1208.65 L927.36 1208.07 L926.93 1207.50 L926.51 1206.92 L926.10 1206.34 L925.69 1205.77 L925.29 1205.19 L924.90 1204.61 L924.51 1204.03 L924.13 1203.45 L923.76 1202.87 L923.39 1202.29 L923.02 1201.70 L922.66 1201.12 L922.31 1200.54 L921.96 1199.96 L921.61 1199.37 L921.27 1198.79 L920.93 1198.21 L920.60 1197.62 L920.27 1197.04 L919.95 1196.45 L919.62 1195.87 L919.31 1195.28 L918.99 1194.70 L918.68 1194.11 L918.38 1193.53 L918.08 1192.94 L917.78 1192.36 L917.48 1191.77 L917.19 1191.19 L916.90 1190.60 L916.62 1190.02 L916.34 1189.43 L916.06 1188.84 L915.79 1188.26 L915.52 1187.67 L915.25 1187.09 L914.99 1186.51 L914.73 1185.92 L914.47 1185.34 L914.22 1184.75 L913.97 1184.17 L913.72 1183.58 L913.48 1183.00 L913.24 1182.42 L913.01 1181.83 L912.78 1181.25 L912.55 1180.67 L912.32 1180.08 L912.10 1179.50 L911.89 1178.92 L911.67 1178.33 L911.46 1177.75 L911.25 1177.17 L911.05 1176.59 L910.85 1176.00 L910.65 1175.42 L910.46 1174.84 L910.27 1174.26 L910.08 1173.67 L909.89 1173.09 L909.71 1172.51 L909.53 1171.93 L909.36 1171.34 L909.18 1170.76 L909.01 1170.18 L908.85 1169.60 L908.68 1169.01 L908.52 1168.43 L908.36 1167.85 L908.21 1167.26 L908.05 1166.68 L907.90 1166.10 L907.76 1165.51 L907.61 1164.93 L907.47 1164.34 L907.33 1163.76 L907.19 1163.17 L907.05 1162.59 L906.92 1162.00 L906.79 1161.42 L906.66 1160.83 L906.53 1160.25 L906.40 1159.66 L906.28 1159.08 L906.16 1158.49 L906.04 1157.90 L905.92 1157.31 L905.81 1156.73 L905.69 1156.14 L905.58 1155.55 L905.47 1154.96 L905.36 1154.38 L905.26 1153.79 L905.15 1153.20 L905.05 1152.61 L904.95 1152.02 L904.85 1151.43 L904.75 1150.84 L904.65 1150.25 L904.51 1149.37 L904.37 1148.48 L904.23 1147.59 L904.09 1146.71 L903.96 1145.82 L903.83 1144.93 L903.71 1144.05 L903.59 1143.16 L903.46 1142.27 L903.35 1141.38 L903.23 1140.49 L903.12 1139.60 L903.01 1138.71 L902.90 1137.82 L902.79 1136.93 L902.68 1136.04 L902.58 1135.15 L902.48 1134.26 L902.38 1133.36 L902.28 1132.47 L902.19 1131.58 L902.09 1130.69 L902.00 1129.79 L901.91 1128.90 L901.82 1128.01 L901.73 1127.11 L901.65 1126.22 L901.56 1125.33 L901.48 1124.43 L901.40 1123.54 L901.32 1122.64 L901.24 1121.75 L901.16 1120.86 L901.08 1119.96 L901.01 1119.06 L900.93 1118.17 L900.86 1117.27 L900.78 1116.38 L900.71 1115.48 L900.64 1114.59 L900.57 1113.69 L900.51 1112.80 L900.44 1111.90 L900.37 1111.00 L900.31 1110.11 L900.24 1109.21 L900.18 1108.31 L900.12 1107.42 L900.05 1106.52 L899.99 1105.62 L899.93 1104.73 L899.87 1103.83 L899.81 1102.93 L899.76 1102.03 L899.70 1101.14 L899.64 1100.24 L899.59 1099.34 L899.53 1098.45 L899.48 1097.55 L899.42 1096.65 L899.37 1095.75 L899.32 1094.85 L899.27 1093.96 L899.22 1093.06 L899.16 1092.16 L899.11 1091.26 L899.06 1090.36 L899.02 1089.47 L898.97 1088.57 L898.92 1087.67 L898.87 1086.77 L898.83 1085.87 L898.78 1084.98 L898.54 1080.19 L898.31 1075.40 L898.10 1070.61 L897.90 1065.83 L897.70 1061.04 L897.52 1056.25 L897.34 1051.46 L897.17 1046.66 L897.00 1041.87 L896.85 1037.08 L896.70 1032.29 L896.55 1027.49 L896.41 1022.70 L896.27 1017.91 L896.14 1013.11 L896.02 1008.32 L895.89 1003.53 L895.77 998.73 L895.66 993.94 L895.54 989.14 L895.43 984.35 L895.33 979.55 L895.22 974.76 L895.12 969.96 L895.02 965.16 L894.92 960.37 L894.83 955.57 L894.74 950.78 L894.65 945.98 L894.56 941.18 L894.47 936.39 L894.39 931.59 L894.30 926.80 L894.22 922.00 L894.14 917.20 L894.06 912.41 L893.98 907.61 L893.91 902.81 L893.83 898.02 L893.76 893.22 L893.69 888.42 L893.62 883.63 L893.55 878.83 L893.48 874.03 L893.41 869.23 L893.34 864.44 L893.27 859.64 L893.21 854.84 L893.14 850.05 L893.08 845.25 L893.02 840.45 L892.95 835.66 L892.89 830.86 L892.83 826.06 L892.77 821.26 L892.71 816.47 L892.65 811.67 L892.59 806.87 L892.53 802.07 L892.48 797.28 L892.42 792.48 L892.36 787.68 L892.31 782.88 L892.25 778.09 L892.19 773.29 L892.14 768.49 L892.09 763.69 L892.03 758.90 L891.98 754.10 L891.92 749.30 L891.87 744.50 L891.82 739.71 L891.77 734.91 L891.71 730.11 L891.66 725.31 L891.61 720.52 L891.56 715.72 L891.51 710.92 L891.45 706.12 L891.40 701.33 L891.35 696.53 L891.30 691.73 L891.25 686.93 L891.20 682.13 L891.15 677.34 L891.10 672.54 L891.05 667.74 L891.00 662.94 L890.95 658.15 L890.90 653.35 L890.85 648.55 L890.80 643.75 L890.75 638.95 L890.70 634.16 L890.65 629.36 L890.60 624.56 L890.55 619.76 L890.49 614.96 L890.44 610.17 L890.39 605.37 L890.34 600.57 L890.29 595.77 L890.24 590.97 L890.18 586.18 L890.13 581.38 L890.08 576.58 L890.02 571.78 L889.97 566.98 L889.92 562.19 L889.86 557.39 L889.81 552.59 L889.75 547.79 L889.69 542.99 L889.64 538.19 L889.58 533.39 L889.52 528.60 L889.46 523.80 L889.40 519.00 L889.33 514.20 L889.27 509.40 L889.20 504.60 L889.14 499.80 L889.07 495.00 L889.00 490.20 L888.92 485.40 L888.85 480.60 L888.77 475.80 L888.69 471.00 L888.60 466.20 L888.51 461.40 L888.42 456.59 L888.31 451.79 L888.20 446.98 L888.08 442.17 L887.94 437.36 L887.78 432.53 L887.59 427.69 L887.28 422.60 L886.37 417.56Z"/>
</g>
<g fill="#1E00D2">
<rect x="236" y="1230.3" width="783.18" height="8.8"/>
<rect x="1340.79" y="1230.3" width="720.41" height="8.8"/>
<circle cx="1171.6" cy="303.1" r="4.4"/>
<path d="M1167.20 303.04 L1167.13 308.68 L1167.08 314.32 L1167.04 319.95 L1167.01 325.58 L1166.98 331.21 L1166.95 336.84 L1166.92 342.47 L1166.89 348.09 L1166.87 353.72 L1166.84 359.35 L1166.82 364.97 L1166.80 370.60 L1166.77 376.23 L1166.75 381.85 L1166.72 387.48 L1166.70 393.11 L1166.67 398.73 L1166.65 404.36 L1166.62 409.99 L1166.60 415.61 L1166.57 421.24 L1166.54 426.86 L1166.51 432.49 L1166.49 438.12 L1166.46 443.74 L1166.43 449.37 L1166.40 454.99 L1166.36 460.62 L1166.33 466.25 L1166.30 471.87 L1166.26 477.50 L1166.23 483.12 L1166.19 488.75 L1166.16 494.38 L1166.12 500.00 L1166.08 505.63 L1166.04 511.25 L1166.00 516.88 L1165.96 522.51 L1165.92 528.13 L1165.87 533.76 L1165.83 539.38 L1165.78 545.01 L1165.74 550.63 L1165.69 556.26 L1165.64 561.89 L1165.59 567.51 L1165.54 573.14 L1165.48 578.76 L1165.43 584.39 L1165.37 590.01 L1165.32 595.64 L1165.26 601.26 L1165.20 606.89 L1165.14 612.52 L1165.08 618.14 L1165.01 623.77 L1164.95 629.39 L1164.88 635.02 L1164.82 640.64 L1164.75 646.27 L1164.68 651.89 L1164.60 657.52 L1164.53 663.15 L1164.45 668.77 L1164.38 674.40 L1164.30 680.02 L1164.22 685.65 L1164.14 691.27 L1164.05 696.90 L1163.97 702.52 L1163.88 708.15 L1163.79 713.77 L1163.70 719.40 L1163.61 725.02 L1163.51 730.65 L1163.42 736.27 L1163.32 741.90 L1163.22 747.52 L1163.12 753.15 L1163.01 758.77 L1162.91 764.40 L1162.80 770.02 L1162.69 775.65 L1162.58 781.27 L1162.46 786.90 L1162.35 792.52 L1162.23 798.15 L1162.11 803.77 L1161.99 809.40 L1161.86 815.02 L1161.74 820.65 L1161.61 826.27 L1161.48 831.90 L1161.34 837.52 L1161.21 843.15 L1161.07 848.77 L1160.93 854.40 L1160.79 860.02 L1160.64 865.65 L1160.49 871.27 L1160.34 876.90 L1160.19 882.52 L1160.04 888.15 L1159.88 893.77 L1159.72 899.40 L1159.56 905.02 L1159.40 910.65 L1159.24 916.27 L1159.07 921.90 L1158.90 927.52 L1158.73 933.15 L1158.55 938.77 L1158.38 944.40 L1158.20 950.02 L1158.02 955.65 L1157.84 961.27 L1157.65 966.89 L1157.46 972.52 L1157.27 978.14 L1157.07 983.76 L1156.87 989.39 L1156.66 995.01 L1156.45 1000.63 L1156.23 1006.25 L1156.00 1011.87 L1155.77 1017.49 L1155.53 1023.11 L1155.27 1028.73 L1155.01 1034.35 L1154.73 1039.97 L1154.44 1045.58 L1154.14 1051.19 L1153.81 1056.81 L1153.47 1062.42 L1153.10 1068.02 L1152.71 1073.63 L1152.29 1079.23 L1151.83 1084.84 L1151.76 1085.73 L1151.68 1086.62 L1151.61 1087.52 L1151.53 1088.41 L1151.45 1089.31 L1151.36 1090.20 L1151.28 1091.10 L1151.20 1092.00 L1151.11 1092.89 L1151.03 1093.79 L1150.94 1094.68 L1150.85 1095.58 L1150.76 1096.47 L1150.67 1097.36 L1150.58 1098.26 L1150.49 1099.15 L1150.39 1100.05 L1150.30 1100.94 L1150.20 1101.83 L1150.10 1102.73 L1150.00 1103.62 L1149.90 1104.51 L1149.79 1105.41 L1149.69 1106.30 L1149.58 1107.19 L1149.47 1108.09 L1149.36 1108.98 L1149.25 1109.87 L1149.13 1110.76 L1149.02 1111.65 L1148.90 1112.55 L1148.78 1113.44 L1148.66 1114.33 L1148.53 1115.22 L1148.41 1116.11 L1148.28 1117.00 L1148.15 1117.89 L1148.02 1118.78 L1147.88 1119.67 L1147.74 1120.56 L1147.60 1121.45 L1147.46 1122.34 L1147.32 1123.23 L1147.22 1123.82 L1147.12 1124.41 L1147.02 1125.00 L1146.92 1125.59 L1146.81 1126.18 L1146.71 1126.78 L1146.60 1127.37 L1146.50 1127.96 L1146.39 1128.55 L1146.28 1129.14 L1146.17 1129.73 L1146.06 1130.32 L1145.94 1130.91 L1145.83 1131.51 L1145.71 1132.10 L1145.60 1132.69 L1145.48 1133.28 L1145.36 1133.87 L1145.23 1134.46 L1145.11 1135.05 L1144.99 1135.64 L1144.86 1136.23 L1144.73 1136.82 L1144.60 1137.41 L1144.47 1138.00 L1144.34 1138.58 L1144.20 1139.17 L1144.06 1139.76 L1143.93 1140.35 L1143.79 1140.94 L1143.64 1141.53 L1143.50 1142.12 L1143.35 1142.70 L1143.21 1143.29 L1143.06 1143.88 L1142.91 1144.47 L1142.75 1145.06 L1142.60 1145.64 L1142.44 1146.23 L1142.28 1146.82 L1142.12 1147.41 L1141.95 1147.99 L1141.79 1148.58 L1141.62 1149.17 L1141.45 1149.75 L1141.28 1150.34 L1141.10 1150.92 L1140.93 1151.51 L1140.75 1152.10 L1140.56 1152.68 L1140.38 1153.27 L1140.19 1153.85 L1140.00 1154.44 L1139.81 1155.02 L1139.62 1155.61 L1139.42 1156.19 L1139.22 1156.78 L1139.01 1157.36 L1138.81 1157.95 L1138.60 1158.53 L1138.39 1159.12 L1138.17 1159.70 L1137.96 1160.29 L1137.74 1160.87 L1137.51 1161.45 L1137.28 1162.04 L1137.05 1162.62 L1136.82 1163.20 L1136.58 1163.79 L1136.34 1164.37 L1136.10 1164.96 L1135.85 1165.54 L1135.60 1166.12 L1135.35 1166.70 L1135.09 1167.29 L1134.83 1167.87 L1134.57 1168.45 L1134.30 1169.04 L1134.02 1169.62 L1133.75 1170.20 L1133.47 1170.79 L1133.18 1171.37 L1132.89 1171.95 L1132.60 1172.53 L1132.30 1173.12 L1132.00 1173.70 L1131.69 1174.28 L1131.38 1174.87 L1131.07 1175.45 L1130.75 1176.03 L1130.43 1176.62 L1130.10 1177.20 L1129.77 1177.78 L1129.43 1178.37 L1129.09 1178.95 L1128.74 1179.53 L1128.39 1180.12 L1128.03 1180.70 L1127.67 1181.28 L1127.30 1181.87 L1126.93 1182.45 L1126.55 1183.03 L1126.17 1183.62 L1125.78 1184.20 L1125.39 1184.78 L1124.99 1185.37 L1124.59 1185.95 L1124.18 1186.54 L1123.77 1187.12 L1123.35 1187.70 L1122.92 1188.29 L1122.49 1188.87 L1122.06 1189.45 L1121.62 1190.04 L1121.17 1190.62 L1120.71 1191.20 L1120.25 1191.79 L1119.79 1192.37 L1119.32 1192.95 L1118.84 1193.53 L1118.35 1194.12 L1117.86 1194.70 L1117.36 1195.28 L1116.85 1195.86 L1116.34 1196.44 L1115.82 1197.02 L1115.29 1197.60 L1114.75 1198.18 L1114.21 1198.76 L1113.65 1199.34 L1113.09 1199.92 L1112.52 1200.50 L1111.94 1201.08 L1111.35 1201.65 L1110.74 1202.23 L1110.13 1202.81 L1109.51 1203.38 L1108.87 1203.95 L1108.22 1204.53 L1107.56 1205.10 L1106.89 1205.67 L1106.20 1206.25 L1105.50 1206.82 L1104.78 1207.39 L1104.05 1207.96 L1103.29 1208.52 L1102.51 1209.10 L1102.13 1209.37 L1101.73 1209.66 L1101.33 1209.94 L1100.92 1210.22 L1100.51 1210.51 L1100.09 1210.79 L1099.66 1211.07 L1099.23 1211.35 L1098.80 1211.63 L1098.35 1211.91 L1097.90 1212.20 L1097.45 1212.48 L1096.98 1212.76 L1096.51 1213.04 L1096.03 1213.32 L1095.54 1213.60 L1095.05 1213.88 L1094.55 1214.16 L1094.04 1214.44 L1093.51 1214.72 L1092.98 1215.00 L1092.44 1215.28 L1091.90 1215.55 L1091.33 1215.83 L1090.76 1216.11 L1090.18 1216.39 L1089.59 1216.67 L1088.98 1216.95 L1088.36 1217.23 L1087.73 1217.51 L1087.08 1217.79 L1086.42 1218.06 L1085.75 1218.34 L1085.05 1218.62 L1084.34 1218.90 L1083.62 1219.18 L1082.87 1219.46 L1082.11 1219.74 L1081.33 1220.02 L1080.52 1220.30 L1079.70 1220.58 L1078.85 1220.86 L1077.98 1221.14 L1077.08 1221.43 L1076.16 1221.71 L1075.21 1221.99 L1074.24 1222.28 L1073.23 1222.56 L1072.20 1222.84 L1071.13 1223.13 L1070.03 1223.41 L1068.90 1223.70 L1067.73 1223.99 L1066.52 1224.27 L1065.27 1224.56 L1063.98 1224.85 L1062.64 1225.14 L1061.26 1225.42 L1059.83 1225.71 L1058.34 1226.00 L1056.80 1226.29 L1055.20 1226.58 L1053.54 1226.87 L1051.81 1227.16 L1050.01 1227.46 L1048.14 1227.75 L1046.18 1228.04 L1044.14 1228.33 L1042.01 1228.63 L1039.78 1228.92 L1037.44 1229.21 L1034.98 1229.51 L1032.40 1229.80 L1029.72 1230.09 L1027.08 1230.31 L1024.18 1230.30 L1018.18 1230.30 L1018.18 1239.10 L1024.18 1239.10 L1027.45 1239.09 L1030.58 1238.81 L1033.38 1238.49 L1036.01 1238.19 L1038.51 1237.88 L1040.90 1237.58 L1043.18 1237.27 L1045.37 1236.96 L1047.46 1236.65 L1049.47 1236.35 L1051.40 1236.04 L1053.25 1235.73 L1055.03 1235.42 L1056.75 1235.11 L1058.40 1234.80 L1060.00 1234.49 L1061.54 1234.18 L1063.03 1233.86 L1064.47 1233.55 L1065.86 1233.24 L1067.21 1232.93 L1068.51 1232.61 L1069.78 1232.30 L1071.01 1231.99 L1072.20 1231.67 L1073.36 1231.36 L1074.48 1231.04 L1075.57 1230.72 L1076.63 1230.41 L1077.67 1230.09 L1078.67 1229.77 L1079.65 1229.45 L1080.61 1229.14 L1081.54 1228.82 L1082.44 1228.50 L1083.33 1228.18 L1084.19 1227.86 L1085.03 1227.54 L1085.85 1227.22 L1086.65 1226.90 L1087.43 1226.57 L1088.20 1226.25 L1088.95 1225.93 L1089.68 1225.61 L1090.39 1225.29 L1091.09 1224.97 L1091.78 1224.64 L1092.45 1224.32 L1093.11 1224.00 L1093.75 1223.68 L1094.38 1223.36 L1095.00 1223.03 L1095.61 1222.71 L1096.21 1222.39 L1096.79 1222.07 L1097.37 1221.75 L1097.93 1221.43 L1098.49 1221.11 L1099.04 1220.79 L1099.57 1220.47 L1100.10 1220.15 L1100.62 1219.82 L1101.13 1219.50 L1101.64 1219.18 L1102.14 1218.87 L1102.62 1218.55 L1103.11 1218.23 L1103.58 1217.91 L1104.05 1217.59 L1104.51 1217.27 L1104.97 1216.95 L1105.41 1216.63 L1105.86 1216.32 L1106.29 1216.00 L1106.73 1215.68 L1107.16 1215.35 L1107.99 1214.73 L1108.80 1214.10 L1109.60 1213.46 L1110.38 1212.83 L1111.14 1212.20 L1111.89 1211.57 L1112.62 1210.94 L1113.33 1210.32 L1114.03 1209.69 L1114.72 1209.06 L1115.39 1208.44 L1116.05 1207.81 L1116.70 1207.19 L1117.34 1206.56 L1117.97 1205.94 L1118.59 1205.32 L1119.19 1204.69 L1119.79 1204.07 L1120.38 1203.45 L1120.96 1202.83 L1121.53 1202.21 L1122.09 1201.59 L1122.64 1200.97 L1123.19 1200.35 L1123.73 1199.73 L1124.26 1199.11 L1124.78 1198.49 L1125.30 1197.87 L1125.80 1197.25 L1126.31 1196.63 L1126.80 1196.01 L1127.29 1195.40 L1127.77 1194.78 L1128.25 1194.16 L1128.72 1193.54 L1129.19 1192.92 L1129.65 1192.31 L1130.10 1191.69 L1130.55 1191.07 L1130.99 1190.45 L1131.43 1189.84 L1131.86 1189.22 L1132.28 1188.60 L1132.70 1187.99 L1133.12 1187.37 L1133.53 1186.75 L1133.94 1186.13 L1134.34 1185.51 L1134.73 1184.90 L1135.12 1184.28 L1135.51 1183.66 L1135.89 1183.04 L1136.27 1182.43 L1136.64 1181.81 L1137.00 1181.19 L1137.36 1180.57 L1137.72 1179.95 L1138.07 1179.33 L1138.42 1178.72 L1138.76 1178.10 L1139.10 1177.48 L1139.43 1176.86 L1139.76 1176.24 L1140.09 1175.63 L1140.41 1175.01 L1140.72 1174.39 L1141.03 1173.77 L1141.34 1173.15 L1141.64 1172.53 L1141.94 1171.92 L1142.24 1171.30 L1142.53 1170.68 L1142.81 1170.06 L1143.10 1169.44 L1143.37 1168.83 L1143.65 1168.21 L1143.92 1167.59 L1144.19 1166.97 L1144.45 1166.35 L1144.71 1165.74 L1144.96 1165.12 L1145.22 1164.50 L1145.46 1163.89 L1145.71 1163.27 L1145.95 1162.65 L1146.19 1162.03 L1146.42 1161.42 L1146.65 1160.80 L1146.88 1160.18 L1147.11 1159.57 L1147.33 1158.95 L1147.54 1158.33 L1147.76 1157.72 L1147.97 1157.10 L1148.18 1156.49 L1148.39 1155.87 L1148.59 1155.26 L1148.79 1154.64 L1148.99 1154.02 L1149.18 1153.41 L1149.37 1152.79 L1149.56 1152.18 L1149.75 1151.56 L1149.93 1150.95 L1150.12 1150.34 L1150.29 1149.72 L1150.47 1149.11 L1150.64 1148.49 L1150.82 1147.88 L1150.99 1147.27 L1151.15 1146.65 L1151.32 1146.04 L1151.48 1145.43 L1151.64 1144.81 L1151.80 1144.20 L1151.95 1143.59 L1152.11 1142.97 L1152.26 1142.36 L1152.41 1141.75 L1152.55 1141.14 L1152.70 1140.52 L1152.84 1139.91 L1152.99 1139.30 L1153.13 1138.69 L1153.26 1138.08 L1153.40 1137.47 L1153.53 1136.85 L1153.67 1136.24 L1153.80 1135.63 L1153.93 1135.02 L1154.05 1134.41 L1154.18 1133.80 L1154.30 1133.19 L1154.43 1132.58 L1154.55 1131.97 L1154.67 1131.36 L1154.78 1130.75 L1154.90 1130.14 L1155.01 1129.53 L1155.13 1128.92 L1155.24 1128.31 L1155.35 1127.70 L1155.46 1127.09 L1155.57 1126.48 L1155.67 1125.87 L1155.78 1125.26 L1155.88 1124.65 L1156.04 1123.74 L1156.19 1122.83 L1156.33 1121.91 L1156.48 1121.00 L1156.62 1120.09 L1156.76 1119.18 L1156.90 1118.27 L1157.03 1117.35 L1157.16 1116.44 L1157.29 1115.53 L1157.42 1114.62 L1157.54 1113.71 L1157.67 1112.80 L1157.79 1111.89 L1157.91 1110.98 L1158.02 1110.07 L1158.14 1109.16 L1158.25 1108.25 L1158.36 1107.34 L1158.47 1106.43 L1158.58 1105.53 L1158.69 1104.62 L1158.79 1103.71 L1158.89 1102.80 L1158.99 1101.89 L1159.09 1100.98 L1159.19 1100.08 L1159.29 1099.17 L1159.38 1098.26 L1159.47 1097.35 L1159.57 1096.45 L1159.66 1095.54 L1159.75 1094.63 L1159.83 1093.73 L1159.92 1092.82 L1160.01 1091.91 L1160.09 1091.01 L1160.17 1090.10 L1160.26 1089.19 L1160.34 1088.29 L1160.42 1087.38 L1160.50 1086.48 L1160.58 1085.56 L1161.04 1079.92 L1161.47 1074.27 L1161.86 1068.62 L1162.23 1062.97 L1162.58 1057.33 L1162.91 1051.69 L1163.22 1046.05 L1163.51 1040.41 L1163.79 1034.77 L1164.05 1029.14 L1164.31 1023.50 L1164.55 1017.87 L1164.79 1012.23 L1165.02 1006.60 L1165.24 1000.97 L1165.45 995.34 L1165.66 989.71 L1165.86 984.08 L1166.06 978.45 L1166.25 972.82 L1166.44 967.19 L1166.63 961.56 L1166.81 955.93 L1166.99 950.30 L1167.17 944.67 L1167.34 939.04 L1167.52 933.42 L1167.69 927.79 L1167.86 922.16 L1168.03 916.53 L1168.19 910.90 L1168.36 905.27 L1168.52 899.65 L1168.68 894.02 L1168.83 888.39 L1168.99 882.76 L1169.14 877.13 L1169.29 871.50 L1169.44 865.88 L1169.58 860.25 L1169.72 854.62 L1169.86 848.99 L1170.00 843.36 L1170.14 837.73 L1170.27 832.11 L1170.40 826.48 L1170.53 820.85 L1170.66 815.22 L1170.78 809.59 L1170.91 803.96 L1171.03 798.34 L1171.14 792.71 L1171.26 787.08 L1171.37 781.45 L1171.49 775.82 L1171.60 770.19 L1171.70 764.57 L1171.81 758.94 L1171.91 753.31 L1172.02 747.68 L1172.12 742.05 L1172.21 736.43 L1172.31 730.80 L1172.40 725.17 L1172.50 719.54 L1172.59 713.91 L1172.68 708.29 L1172.76 702.66 L1172.85 697.03 L1172.93 691.40 L1173.02 685.77 L1173.10 680.15 L1173.17 674.52 L1173.25 668.89 L1173.33 663.26 L1173.40 657.63 L1173.47 652.01 L1173.54 646.38 L1173.61 640.75 L1173.68 635.12 L1173.75 629.50 L1173.81 623.87 L1173.88 618.24 L1173.94 612.61 L1174.00 606.98 L1174.06 601.36 L1174.12 595.73 L1174.17 590.10 L1174.23 584.47 L1174.28 578.85 L1174.34 573.22 L1174.39 567.59 L1174.44 561.96 L1174.49 556.34 L1174.54 550.71 L1174.58 545.08 L1174.63 539.45 L1174.67 533.83 L1174.72 528.20 L1174.76 522.57 L1174.80 516.94 L1174.84 511.32 L1174.88 505.69 L1174.92 500.06 L1174.96 494.43 L1174.99 488.81 L1175.03 483.18 L1175.06 477.55 L1175.10 471.92 L1175.13 466.30 L1175.16 460.67 L1175.19 455.04 L1175.23 449.42 L1175.26 443.79 L1175.28 438.16 L1175.31 432.53 L1175.34 426.91 L1175.37 421.28 L1175.40 415.65 L1175.42 410.03 L1175.45 404.40 L1175.47 398.77 L1175.50 393.15 L1175.52 387.52 L1175.55 381.89 L1175.57 376.26 L1175.60 370.64 L1175.62 365.01 L1175.64 359.39 L1175.67 353.76 L1175.69 348.13 L1175.72 342.51 L1175.75 336.88 L1175.78 331.26 L1175.81 325.63 L1175.84 320.01 L1175.88 314.39 L1175.93 308.77 L1176.00 303.16Z M1167.41 304.06 L1168.58 309.37 L1168.89 314.61 L1169.15 320.17 L1169.36 325.76 L1169.54 331.37 L1169.70 336.98 L1169.84 342.59 L1169.97 348.21 L1170.09 353.83 L1170.20 359.45 L1170.31 365.07 L1170.41 370.70 L1170.50 376.32 L1170.60 381.94 L1170.68 387.57 L1170.77 393.19 L1170.86 398.82 L1170.94 404.44 L1171.02 410.07 L1171.10 415.69 L1171.18 421.32 L1171.25 426.95 L1171.33 432.57 L1171.41 438.20 L1171.49 443.83 L1171.56 449.45 L1171.64 455.08 L1171.71 460.70 L1171.79 466.33 L1171.87 471.96 L1171.94 477.59 L1172.02 483.21 L1172.10 488.84 L1172.18 494.47 L1172.25 500.09 L1172.33 505.72 L1172.41 511.35 L1172.50 516.98 L1172.58 522.60 L1172.66 528.23 L1172.74 533.86 L1172.83 539.48 L1172.91 545.11 L1173.00 550.74 L1173.09 556.37 L1173.18 561.99 L1173.27 567.62 L1173.36 573.25 L1173.45 578.88 L1173.55 584.51 L1173.64 590.13 L1173.74 595.76 L1173.84 601.39 L1173.94 607.02 L1174.04 612.64 L1174.14 618.27 L1174.24 623.90 L1174.35 629.53 L1174.46 635.16 L1174.57 640.78 L1174.68 646.41 L1174.79 652.04 L1174.90 657.67 L1175.02 663.29 L1175.14 668.92 L1175.26 674.55 L1175.38 680.18 L1175.50 685.81 L1175.63 691.43 L1175.75 697.06 L1175.88 702.69 L1176.01 708.32 L1176.14 713.95 L1176.28 719.58 L1176.41 725.20 L1176.55 730.83 L1176.69 736.46 L1176.83 742.09 L1176.98 747.72 L1177.12 753.34 L1177.27 758.97 L1177.42 764.60 L1177.57 770.23 L1177.73 775.86 L1177.88 781.48 L1178.04 787.11 L1178.20 792.74 L1178.36 798.37 L1178.52 804.00 L1178.69 809.63 L1178.85 815.25 L1179.02 820.88 L1179.19 826.51 L1179.36 832.14 L1179.54 837.76 L1179.71 843.39 L1179.89 849.02 L1180.07 854.65 L1180.25 860.28 L1180.43 865.90 L1180.61 871.53 L1180.79 877.16 L1180.97 882.79 L1181.16 888.41 L1181.34 894.04 L1181.53 899.67 L1181.71 905.29 L1181.90 910.92 L1182.08 916.55 L1182.26 922.17 L1182.45 927.80 L1182.63 933.42 L1182.81 939.05 L1182.99 944.67 L1183.16 950.30 L1183.34 955.92 L1183.51 961.55 L1183.68 967.17 L1183.85 972.80 L1184.02 978.43 L1184.19 984.05 L1184.35 989.68 L1184.52 995.30 L1184.68 1000.93 L1184.85 1006.56 L1185.02 1012.19 L1185.19 1017.81 L1185.36 1023.44 L1185.54 1029.07 L1185.71 1034.70 L1185.90 1040.33 L1186.09 1045.96 L1186.29 1051.60 L1186.49 1057.23 L1186.71 1062.87 L1186.94 1068.51 L1187.19 1074.15 L1187.46 1079.79 L1187.75 1085.43 L1187.80 1086.34 L1187.85 1087.25 L1187.90 1088.15 L1187.95 1089.05 L1188.01 1089.96 L1188.06 1090.86 L1188.11 1091.77 L1188.17 1092.67 L1188.22 1093.58 L1188.28 1094.48 L1188.34 1095.39 L1188.40 1096.30 L1188.46 1097.20 L1188.52 1098.11 L1188.58 1099.01 L1188.64 1099.92 L1188.71 1100.83 L1188.77 1101.73 L1188.84 1102.64 L1188.91 1103.55 L1188.97 1104.45 L1189.04 1105.36 L1189.12 1106.27 L1189.19 1107.17 L1189.26 1108.08 L1189.34 1108.99 L1189.42 1109.90 L1189.50 1110.81 L1189.58 1111.71 L1189.66 1112.62 L1189.74 1113.53 L1189.83 1114.44 L1189.92 1115.35 L1190.01 1116.26 L1190.10 1117.17 L1190.19 1118.08 L1190.29 1118.99 L1190.39 1119.90 L1190.49 1120.81 L1190.59 1121.72 L1190.69 1122.64 L1190.80 1123.55 L1190.91 1124.46 L1191.02 1125.37 L1191.14 1126.28 L1191.26 1127.20 L1191.38 1128.11 L1191.50 1129.02 L1191.62 1129.94 L1191.75 1130.85 L1191.88 1131.76 L1192.02 1132.68 L1192.15 1133.59 L1192.30 1134.51 L1192.44 1135.42 L1192.59 1136.34 L1192.74 1137.25 L1192.89 1138.17 L1192.99 1138.78 L1193.10 1139.39 L1193.21 1140.00 L1193.32 1140.61 L1193.43 1141.22 L1193.54 1141.84 L1193.66 1142.45 L1193.77 1143.06 L1193.89 1143.67 L1194.01 1144.28 L1194.14 1144.90 L1194.26 1145.51 L1194.39 1146.12 L1194.51 1146.73 L1194.64 1147.35 L1194.78 1147.96 L1194.91 1148.57 L1195.05 1149.19 L1195.19 1149.80 L1195.33 1150.42 L1195.47 1151.03 L1195.62 1151.64 L1195.77 1152.26 L1195.92 1152.87 L1196.07 1153.49 L1196.23 1154.11 L1196.39 1154.72 L1196.55 1155.34 L1196.71 1155.95 L1196.88 1156.57 L1197.05 1157.19 L1197.22 1157.80 L1197.40 1158.42 L1197.58 1159.04 L1197.76 1159.66 L1197.94 1160.27 L1198.13 1160.89 L1198.33 1161.51 L1198.52 1162.13 L1198.72 1162.75 L1198.92 1163.37 L1199.13 1163.99 L1199.34 1164.61 L1199.56 1165.23 L1199.78 1165.85 L1200.00 1166.47 L1200.23 1167.09 L1200.46 1167.71 L1200.69 1168.33 L1200.94 1168.96 L1201.18 1169.58 L1201.43 1170.20 L1201.69 1170.82 L1201.95 1171.45 L1202.21 1172.07 L1202.48 1172.70 L1202.76 1173.32 L1203.04 1173.95 L1203.33 1174.57 L1203.63 1175.20 L1203.93 1175.82 L1204.23 1176.45 L1204.55 1177.07 L1204.86 1177.70 L1205.19 1178.33 L1205.52 1178.95 L1205.86 1179.58 L1206.21 1180.21 L1206.57 1180.84 L1206.93 1181.47 L1207.30 1182.09 L1207.68 1182.72 L1208.07 1183.35 L1208.46 1183.98 L1208.87 1184.61 L1209.28 1185.24 L1209.70 1185.87 L1210.13 1186.50 L1210.57 1187.13 L1211.02 1187.76 L1211.48 1188.39 L1211.95 1189.02 L1212.42 1189.65 L1212.91 1190.28 L1213.41 1190.91 L1213.92 1191.54 L1214.44 1192.17 L1214.97 1192.80 L1215.51 1193.43 L1216.07 1194.06 L1216.63 1194.69 L1217.21 1195.32 L1217.79 1195.95 L1218.39 1196.57 L1219.00 1197.20 L1219.63 1197.83 L1220.26 1198.46 L1220.91 1199.09 L1221.56 1199.72 L1222.24 1200.34 L1222.92 1200.97 L1223.61 1201.60 L1224.32 1202.22 L1225.04 1202.85 L1225.77 1203.47 L1226.52 1204.10 L1227.27 1204.72 L1228.04 1205.35 L1228.82 1205.97 L1229.62 1206.59 L1230.42 1207.22 L1231.24 1207.83 L1231.66 1208.15 L1232.08 1208.46 L1232.50 1208.77 L1232.92 1209.09 L1233.35 1209.40 L1233.78 1209.71 L1234.22 1210.02 L1234.65 1210.33 L1235.10 1210.64 L1235.54 1210.95 L1235.99 1211.26 L1236.44 1211.57 L1236.90 1211.89 L1237.36 1212.20 L1237.82 1212.51 L1238.29 1212.82 L1238.76 1213.13 L1239.24 1213.44 L1239.72 1213.75 L1240.20 1214.06 L1240.69 1214.38 L1241.18 1214.69 L1241.68 1215.00 L1242.18 1215.31 L1242.69 1215.62 L1243.20 1215.93 L1243.71 1216.25 L1244.23 1216.56 L1244.76 1216.87 L1245.29 1217.18 L1245.82 1217.50 L1246.36 1217.81 L1246.91 1218.12 L1247.47 1218.43 L1248.02 1218.75 L1248.59 1219.06 L1249.16 1219.37 L1249.74 1219.69 L1250.32 1220.00 L1250.91 1220.31 L1251.51 1220.63 L1252.12 1220.94 L1252.73 1221.26 L1253.36 1221.57 L1253.99 1221.88 L1254.62 1222.20 L1255.27 1222.51 L1255.93 1222.83 L1256.59 1223.14 L1257.27 1223.46 L1257.96 1223.77 L1258.65 1224.09 L1259.36 1224.41 L1260.08 1224.72 L1260.81 1225.04 L1261.55 1225.35 L1262.31 1225.67 L1263.08 1225.99 L1263.87 1226.30 L1264.66 1226.62 L1265.48 1226.93 L1266.31 1227.25 L1267.16 1227.57 L1268.02 1227.88 L1268.91 1228.20 L1269.81 1228.52 L1270.73 1228.83 L1271.68 1229.15 L1272.65 1229.47 L1273.64 1229.78 L1274.66 1230.10 L1275.70 1230.41 L1276.77 1230.73 L1277.87 1231.04 L1279.01 1231.36 L1280.18 1231.68 L1281.38 1231.99 L1282.63 1232.31 L1283.91 1232.62 L1285.24 1232.93 L1286.61 1233.25 L1288.04 1233.56 L1289.52 1233.87 L1291.06 1234.19 L1292.66 1234.50 L1294.34 1234.81 L1296.09 1235.12 L1297.92 1235.43 L1299.84 1235.74 L1301.86 1236.05 L1304.00 1236.36 L1306.25 1236.67 L1308.64 1236.98 L1311.19 1237.29 L1313.90 1237.60 L1316.81 1237.90 L1319.95 1238.21 L1323.34 1238.52 L1327.05 1238.83 L1331.25 1239.10 L1335.79 1239.10 L1341.79 1239.10 L1341.79 1230.30 L1335.79 1230.30 L1331.51 1230.30 L1327.68 1230.07 L1324.08 1229.78 L1320.76 1229.49 L1317.69 1229.19 L1314.84 1228.90 L1312.19 1228.61 L1309.71 1228.31 L1307.39 1228.02 L1305.20 1227.73 L1303.13 1227.44 L1301.17 1227.15 L1299.32 1226.86 L1297.55 1226.57 L1295.86 1226.28 L1294.26 1225.99 L1292.71 1225.70 L1291.24 1225.41 L1289.82 1225.13 L1288.46 1224.84 L1287.14 1224.55 L1285.88 1224.27 L1284.65 1223.98 L1283.47 1223.70 L1282.32 1223.41 L1281.21 1223.12 L1280.14 1222.84 L1279.09 1222.55 L1278.07 1222.27 L1277.08 1221.98 L1276.12 1221.70 L1275.18 1221.42 L1274.26 1221.13 L1273.37 1220.85 L1272.50 1220.56 L1271.64 1220.28 L1270.81 1219.99 L1269.99 1219.71 L1269.19 1219.43 L1268.40 1219.14 L1267.64 1218.86 L1266.88 1218.57 L1266.14 1218.29 L1265.41 1218.00 L1264.70 1217.72 L1263.99 1217.44 L1263.30 1217.15 L1262.62 1216.87 L1261.95 1216.58 L1261.30 1216.30 L1260.65 1216.01 L1260.01 1215.72 L1259.38 1215.44 L1258.75 1215.15 L1258.14 1214.87 L1257.54 1214.58 L1256.94 1214.30 L1256.35 1214.01 L1255.77 1213.72 L1255.19 1213.44 L1254.62 1213.15 L1254.06 1212.86 L1253.51 1212.58 L1252.96 1212.29 L1252.41 1212.00 L1251.88 1211.71 L1251.35 1211.43 L1250.82 1211.14 L1250.30 1210.85 L1249.78 1210.56 L1249.27 1210.27 L1248.77 1209.99 L1248.27 1209.70 L1247.77 1209.41 L1247.28 1209.12 L1246.79 1208.83 L1246.31 1208.54 L1245.83 1208.25 L1245.36 1207.97 L1244.89 1207.68 L1244.43 1207.39 L1243.97 1207.10 L1243.51 1206.81 L1243.05 1206.52 L1242.61 1206.23 L1242.16 1205.94 L1241.72 1205.65 L1241.28 1205.36 L1240.84 1205.07 L1240.41 1204.78 L1239.99 1204.49 L1239.56 1204.20 L1239.14 1203.91 L1238.73 1203.62 L1238.31 1203.34 L1237.90 1203.05 L1237.50 1202.76 L1237.09 1202.47 L1236.69 1202.18 L1236.30 1201.89 L1235.91 1201.60 L1235.13 1201.02 L1234.36 1200.44 L1233.61 1199.86 L1232.88 1199.29 L1232.16 1198.71 L1231.45 1198.13 L1230.75 1197.56 L1230.07 1196.98 L1229.40 1196.41 L1228.74 1195.83 L1228.09 1195.26 L1227.46 1194.68 L1226.85 1194.11 L1226.24 1193.53 L1225.65 1192.96 L1225.07 1192.39 L1224.50 1191.82 L1223.95 1191.24 L1223.41 1190.67 L1222.88 1190.10 L1222.36 1189.53 L1221.86 1188.96 L1221.37 1188.38 L1220.88 1187.81 L1220.41 1187.24 L1219.95 1186.67 L1219.50 1186.10 L1219.06 1185.53 L1218.63 1184.96 L1218.22 1184.39 L1217.81 1183.81 L1217.41 1183.24 L1217.02 1182.67 L1216.64 1182.10 L1216.26 1181.53 L1215.90 1180.96 L1215.54 1180.39 L1215.20 1179.81 L1214.86 1179.24 L1214.52 1178.67 L1214.20 1178.10 L1213.88 1177.52 L1213.57 1176.95 L1213.26 1176.38 L1212.97 1175.80 L1212.67 1175.23 L1212.39 1174.66 L1212.11 1174.08 L1211.83 1173.51 L1211.56 1172.93 L1211.30 1172.36 L1211.04 1171.78 L1210.79 1171.20 L1210.54 1170.63 L1210.30 1170.05 L1210.06 1169.48 L1209.82 1168.90 L1209.59 1168.32 L1209.37 1167.74 L1209.14 1167.17 L1208.93 1166.59 L1208.71 1166.01 L1208.50 1165.43 L1208.29 1164.85 L1208.09 1164.27 L1207.89 1163.69 L1207.70 1163.11 L1207.50 1162.53 L1207.31 1161.95 L1207.13 1161.37 L1206.95 1160.79 L1206.76 1160.20 L1206.59 1159.62 L1206.41 1159.04 L1206.24 1158.46 L1206.07 1157.87 L1205.91 1157.29 L1205.74 1156.71 L1205.58 1156.12 L1205.43 1155.54 L1205.27 1154.96 L1205.12 1154.37 L1204.97 1153.79 L1204.82 1153.20 L1204.67 1152.62 L1204.53 1152.03 L1204.39 1151.44 L1204.25 1150.86 L1204.11 1150.27 L1203.97 1149.69 L1203.84 1149.10 L1203.71 1148.51 L1203.58 1147.93 L1203.45 1147.34 L1203.33 1146.75 L1203.20 1146.16 L1203.08 1145.58 L1202.96 1144.99 L1202.84 1144.40 L1202.73 1143.81 L1202.61 1143.22 L1202.50 1142.63 L1202.39 1142.04 L1202.28 1141.46 L1202.17 1140.87 L1202.06 1140.28 L1201.96 1139.69 L1201.85 1139.10 L1201.75 1138.51 L1201.65 1137.92 L1201.55 1137.33 L1201.46 1136.74 L1201.31 1135.85 L1201.17 1134.96 L1201.03 1134.08 L1200.90 1133.19 L1200.76 1132.30 L1200.63 1131.42 L1200.51 1130.53 L1200.38 1129.64 L1200.26 1128.75 L1200.14 1127.86 L1200.03 1126.97 L1199.91 1126.09 L1199.80 1125.20 L1199.69 1124.31 L1199.59 1123.42 L1199.48 1122.53 L1199.38 1121.64 L1199.28 1120.75 L1199.18 1119.86 L1199.09 1118.97 L1198.99 1118.08 L1198.90 1117.18 L1198.81 1116.29 L1198.72 1115.40 L1198.64 1114.51 L1198.55 1113.62 L1198.47 1112.72 L1198.39 1111.83 L1198.31 1110.94 L1198.23 1110.04 L1198.15 1109.15 L1198.08 1108.26 L1198.01 1107.36 L1197.93 1106.47 L1197.86 1105.57 L1197.79 1104.68 L1197.72 1103.79 L1197.66 1102.89 L1197.59 1102.00 L1197.53 1101.10 L1197.46 1100.20 L1197.40 1099.31 L1197.34 1098.41 L1197.28 1097.52 L1197.22 1096.62 L1197.16 1095.73 L1197.10 1094.83 L1197.05 1093.93 L1196.99 1093.04 L1196.94 1092.14 L1196.88 1091.24 L1196.83 1090.35 L1196.78 1089.45 L1196.73 1088.55 L1196.67 1087.66 L1196.62 1086.76 L1196.58 1085.86 L1196.53 1084.97 L1196.24 1079.36 L1195.97 1073.75 L1195.73 1068.13 L1195.50 1062.52 L1195.28 1056.90 L1195.07 1051.28 L1194.88 1045.66 L1194.69 1040.04 L1194.50 1034.42 L1194.33 1028.80 L1194.15 1023.17 L1193.98 1017.55 L1193.81 1011.92 L1193.64 1006.30 L1193.48 1000.67 L1193.31 995.04 L1193.14 989.42 L1192.98 983.79 L1192.81 978.16 L1192.64 972.54 L1192.47 966.91 L1192.30 961.28 L1192.13 955.65 L1191.95 950.02 L1191.78 944.40 L1191.60 938.77 L1191.42 933.14 L1191.24 927.51 L1191.05 921.88 L1190.87 916.26 L1190.69 910.63 L1190.50 905.00 L1190.32 899.38 L1190.13 893.75 L1189.95 888.12 L1189.76 882.50 L1189.58 876.87 L1189.40 871.25 L1189.22 865.62 L1189.04 859.99 L1188.86 854.37 L1188.68 848.74 L1188.50 843.12 L1188.33 837.49 L1188.16 831.87 L1187.98 826.24 L1187.81 820.62 L1187.65 814.99 L1187.48 809.37 L1187.31 803.74 L1187.15 798.12 L1186.99 792.49 L1186.83 786.87 L1186.67 781.24 L1186.52 775.62 L1186.37 769.99 L1186.21 764.37 L1186.06 758.74 L1185.92 753.11 L1185.77 747.49 L1185.63 741.86 L1185.49 736.24 L1185.35 730.61 L1185.21 724.99 L1185.07 719.36 L1184.94 713.74 L1184.81 708.11 L1184.68 702.49 L1184.55 696.86 L1184.42 691.24 L1184.30 685.61 L1184.17 679.99 L1184.05 674.36 L1183.93 668.74 L1183.82 663.11 L1183.70 657.49 L1183.59 651.86 L1183.47 646.24 L1183.36 640.61 L1183.25 634.99 L1183.15 629.36 L1183.04 623.74 L1182.94 618.11 L1182.84 612.48 L1182.73 606.86 L1182.63 601.23 L1182.54 595.61 L1182.44 589.98 L1182.34 584.36 L1182.25 578.73 L1182.16 573.11 L1182.07 567.48 L1181.98 561.85 L1181.89 556.23 L1181.80 550.60 L1181.71 544.98 L1181.63 539.35 L1181.54 533.73 L1181.46 528.10 L1181.38 522.47 L1181.29 516.85 L1181.21 511.22 L1181.13 505.60 L1181.05 499.97 L1180.97 494.34 L1180.90 488.72 L1180.82 483.09 L1180.74 477.47 L1180.66 471.84 L1180.59 466.21 L1180.51 460.59 L1180.44 454.96 L1180.36 449.33 L1180.28 443.71 L1180.21 438.08 L1180.13 432.45 L1180.05 426.82 L1179.98 421.20 L1179.90 415.57 L1179.82 409.94 L1179.74 404.32 L1179.65 398.69 L1179.57 393.06 L1179.48 387.43 L1179.39 381.80 L1179.30 376.17 L1179.20 370.54 L1179.10 364.91 L1179.00 359.28 L1178.89 353.65 L1178.77 348.02 L1178.64 342.38 L1178.49 336.74 L1178.33 331.10 L1178.15 325.45 L1177.93 319.79 L1177.66 314.10 L1177.19 308.09 L1175.79 302.14Z"/>
</g>
<g fill="url(#magg)">
<rect x="236" y="1230.8" width="1133.32" height="8.8"/>
<rect x="1695.48" y="1230.8" width="365.72" height="8.8"/>
<circle cx="1523.1" cy="283.9" r="4.4"/>
<path d="M1518.70 283.82 L1518.60 289.60 L1518.54 295.39 L1518.50 301.17 L1518.47 306.93 L1518.44 312.70 L1518.41 318.47 L1518.38 324.23 L1518.36 330.00 L1518.34 335.77 L1518.32 341.53 L1518.30 347.30 L1518.27 353.06 L1518.25 358.83 L1518.23 364.59 L1518.21 370.35 L1518.19 376.12 L1518.17 381.88 L1518.15 387.65 L1518.12 393.41 L1518.10 399.18 L1518.07 404.94 L1518.05 410.71 L1518.02 416.47 L1518.00 422.23 L1517.97 428.00 L1517.94 433.76 L1517.91 439.53 L1517.88 445.29 L1517.85 451.05 L1517.82 456.82 L1517.79 462.58 L1517.75 468.35 L1517.72 474.11 L1517.68 479.87 L1517.64 485.64 L1517.60 491.40 L1517.56 497.16 L1517.52 502.93 L1517.48 508.69 L1517.44 514.46 L1517.39 520.22 L1517.34 525.98 L1517.30 531.75 L1517.25 537.51 L1517.20 543.27 L1517.14 549.04 L1517.09 554.80 L1517.04 560.57 L1516.98 566.33 L1516.92 572.09 L1516.86 577.86 L1516.80 583.62 L1516.74 589.38 L1516.67 595.15 L1516.60 600.91 L1516.54 606.67 L1516.47 612.44 L1516.39 618.20 L1516.32 623.96 L1516.25 629.73 L1516.17 635.49 L1516.09 641.25 L1516.01 647.02 L1515.93 652.78 L1515.84 658.54 L1515.75 664.31 L1515.67 670.07 L1515.58 675.83 L1515.48 681.60 L1515.39 687.36 L1515.29 693.12 L1515.19 698.89 L1515.09 704.65 L1514.99 710.41 L1514.88 716.17 L1514.78 721.94 L1514.67 727.70 L1514.55 733.46 L1514.44 739.23 L1514.32 744.99 L1514.20 750.75 L1514.08 756.52 L1513.96 762.28 L1513.83 768.04 L1513.71 773.80 L1513.57 779.57 L1513.44 785.33 L1513.31 791.09 L1513.17 796.86 L1513.03 802.62 L1512.89 808.38 L1512.74 814.15 L1512.59 819.91 L1512.44 825.67 L1512.29 831.43 L1512.14 837.20 L1511.98 842.96 L1511.82 848.72 L1511.66 854.49 L1511.49 860.25 L1511.32 866.01 L1511.15 871.77 L1510.98 877.54 L1510.81 883.30 L1510.63 889.06 L1510.46 894.83 L1510.28 900.59 L1510.09 906.35 L1509.91 912.12 L1509.72 917.88 L1509.54 923.64 L1509.35 929.41 L1509.16 935.17 L1508.97 940.94 L1508.77 946.70 L1508.58 952.46 L1508.39 958.23 L1508.19 963.99 L1508.00 969.75 L1507.80 975.52 L1507.60 981.28 L1507.40 987.04 L1507.19 992.81 L1506.98 998.57 L1506.77 1004.33 L1506.55 1010.09 L1506.32 1015.85 L1506.09 1021.61 L1505.85 1027.37 L1505.60 1033.12 L1505.34 1038.88 L1505.07 1044.63 L1504.78 1050.38 L1504.47 1056.13 L1504.15 1061.88 L1503.80 1067.63 L1503.42 1073.37 L1503.02 1079.11 L1502.57 1084.86 L1502.50 1085.74 L1502.43 1086.64 L1502.35 1087.53 L1502.28 1088.43 L1502.20 1089.32 L1502.12 1090.22 L1502.05 1091.12 L1501.96 1092.01 L1501.88 1092.90 L1501.80 1093.80 L1501.72 1094.69 L1501.63 1095.59 L1501.54 1096.48 L1501.46 1097.38 L1501.37 1098.27 L1501.28 1099.16 L1501.18 1100.06 L1501.09 1100.95 L1500.99 1101.84 L1500.90 1102.74 L1500.80 1103.63 L1500.70 1104.52 L1500.60 1105.41 L1500.49 1106.31 L1500.39 1107.20 L1500.28 1108.09 L1500.17 1108.98 L1500.06 1109.87 L1499.95 1110.77 L1499.83 1111.66 L1499.71 1112.55 L1499.59 1113.44 L1499.47 1114.33 L1499.35 1115.22 L1499.22 1116.11 L1499.10 1117.00 L1498.97 1117.89 L1498.84 1118.78 L1498.70 1119.67 L1498.56 1120.56 L1498.42 1121.45 L1498.28 1122.34 L1498.14 1123.23 L1498.04 1123.82 L1497.94 1124.41 L1497.84 1125.00 L1497.74 1125.60 L1497.64 1126.19 L1497.54 1126.78 L1497.43 1127.37 L1497.32 1127.96 L1497.22 1128.55 L1497.11 1129.15 L1497.00 1129.74 L1496.89 1130.33 L1496.77 1130.92 L1496.66 1131.51 L1496.54 1132.10 L1496.43 1132.69 L1496.31 1133.28 L1496.19 1133.87 L1496.07 1134.46 L1495.94 1135.05 L1495.82 1135.64 L1495.69 1136.23 L1495.57 1136.82 L1495.44 1137.41 L1495.31 1138.00 L1495.17 1138.59 L1495.04 1139.18 L1494.90 1139.77 L1494.77 1140.35 L1494.63 1140.94 L1494.49 1141.53 L1494.34 1142.12 L1494.20 1142.71 L1494.05 1143.30 L1493.90 1143.88 L1493.75 1144.47 L1493.60 1145.06 L1493.44 1145.65 L1493.29 1146.23 L1493.13 1146.82 L1492.96 1147.41 L1492.80 1147.99 L1492.64 1148.58 L1492.47 1149.16 L1492.30 1149.75 L1492.12 1150.34 L1491.95 1150.92 L1491.77 1151.51 L1491.59 1152.09 L1491.41 1152.68 L1491.22 1153.26 L1491.04 1153.85 L1490.85 1154.43 L1490.65 1155.02 L1490.46 1155.60 L1490.26 1156.18 L1490.06 1156.77 L1489.85 1157.35 L1489.65 1157.94 L1489.44 1158.52 L1489.22 1159.10 L1489.01 1159.69 L1488.79 1160.27 L1488.56 1160.85 L1488.34 1161.43 L1488.11 1162.02 L1487.87 1162.60 L1487.64 1163.18 L1487.39 1163.76 L1487.15 1164.35 L1486.90 1164.93 L1486.65 1165.51 L1486.40 1166.09 L1486.14 1166.67 L1485.87 1167.25 L1485.60 1167.84 L1485.33 1168.42 L1485.06 1169.00 L1484.78 1169.58 L1484.49 1170.16 L1484.20 1170.74 L1483.91 1171.32 L1483.61 1171.91 L1483.31 1172.49 L1483.00 1173.07 L1482.69 1173.65 L1482.37 1174.23 L1482.05 1174.81 L1481.72 1175.40 L1481.39 1175.98 L1481.05 1176.56 L1480.71 1177.14 L1480.36 1177.72 L1480.01 1178.31 L1479.65 1178.89 L1479.29 1179.47 L1478.92 1180.05 L1478.54 1180.64 L1478.16 1181.22 L1477.78 1181.80 L1477.39 1182.39 L1476.99 1182.97 L1476.59 1183.56 L1476.18 1184.14 L1475.77 1184.73 L1475.36 1185.31 L1474.93 1185.90 L1474.50 1186.48 L1474.07 1187.07 L1473.63 1187.65 L1473.19 1188.24 L1472.74 1188.82 L1472.28 1189.41 L1471.83 1189.99 L1471.36 1190.58 L1470.89 1191.17 L1470.41 1191.75 L1469.93 1192.34 L1469.45 1192.92 L1468.96 1193.51 L1468.46 1194.10 L1467.95 1194.68 L1467.45 1195.27 L1466.93 1195.85 L1466.41 1196.44 L1465.89 1197.02 L1465.35 1197.61 L1464.81 1198.19 L1464.27 1198.78 L1463.72 1199.36 L1463.16 1199.94 L1462.59 1200.53 L1462.02 1201.11 L1461.44 1201.69 L1460.85 1202.27 L1460.25 1202.85 L1459.65 1203.43 L1459.03 1204.01 L1458.41 1204.59 L1457.78 1205.17 L1457.13 1205.74 L1456.47 1206.32 L1455.81 1206.89 L1455.13 1207.47 L1454.43 1208.04 L1453.72 1208.61 L1453.00 1209.18 L1452.26 1209.75 L1451.50 1210.33 L1451.12 1210.60 L1450.73 1210.88 L1450.33 1211.17 L1449.93 1211.45 L1449.53 1211.73 L1449.12 1212.01 L1448.70 1212.30 L1448.28 1212.58 L1447.85 1212.86 L1447.42 1213.14 L1446.97 1213.42 L1446.53 1213.70 L1446.07 1213.98 L1445.61 1214.26 L1445.14 1214.54 L1444.66 1214.81 L1444.17 1215.09 L1443.67 1215.37 L1443.17 1215.65 L1442.65 1215.93 L1442.13 1216.20 L1441.59 1216.48 L1441.05 1216.76 L1440.49 1217.04 L1439.92 1217.31 L1439.34 1217.59 L1438.75 1217.86 L1438.14 1218.14 L1437.51 1218.42 L1436.88 1218.69 L1436.22 1218.97 L1435.55 1219.25 L1434.86 1219.52 L1434.16 1219.80 L1433.43 1220.08 L1432.69 1220.35 L1431.92 1220.63 L1431.13 1220.91 L1430.32 1221.19 L1429.48 1221.47 L1428.61 1221.75 L1427.72 1222.03 L1426.81 1222.31 L1425.86 1222.59 L1424.88 1222.87 L1423.87 1223.15 L1422.82 1223.44 L1421.74 1223.72 L1420.61 1224.00 L1419.45 1224.29 L1418.24 1224.57 L1416.99 1224.86 L1415.68 1225.14 L1414.33 1225.43 L1412.92 1225.72 L1411.44 1226.00 L1409.91 1226.29 L1408.30 1226.58 L1406.62 1226.87 L1404.86 1227.16 L1403.01 1227.45 L1401.07 1227.74 L1399.02 1228.03 L1396.87 1228.32 L1394.59 1228.62 L1392.18 1228.91 L1389.63 1229.20 L1386.91 1229.50 L1384.01 1229.79 L1380.91 1230.09 L1377.59 1230.38 L1374.12 1230.66 L1368.21 1230.80 L1368.43 1239.60 L1374.53 1239.44 L1378.34 1239.12 L1381.72 1238.81 L1384.87 1238.51 L1387.83 1238.20 L1390.61 1237.89 L1393.22 1237.59 L1395.69 1237.28 L1398.03 1236.97 L1400.24 1236.66 L1402.35 1236.35 L1404.35 1236.04 L1406.26 1235.73 L1408.08 1235.42 L1409.83 1235.11 L1411.50 1234.80 L1413.10 1234.49 L1414.64 1234.17 L1416.11 1233.86 L1417.54 1233.55 L1418.91 1233.23 L1420.22 1232.92 L1421.50 1232.60 L1422.73 1232.28 L1423.92 1231.97 L1425.07 1231.65 L1426.18 1231.33 L1427.26 1231.01 L1428.30 1230.69 L1429.31 1230.37 L1430.30 1230.05 L1431.25 1229.73 L1432.18 1229.41 L1433.08 1229.09 L1433.96 1228.77 L1434.81 1228.45 L1435.64 1228.12 L1436.45 1227.80 L1437.24 1227.48 L1438.01 1227.15 L1438.76 1226.83 L1439.49 1226.51 L1440.21 1226.18 L1440.90 1225.86 L1441.58 1225.53 L1442.25 1225.21 L1442.90 1224.88 L1443.54 1224.56 L1444.16 1224.24 L1444.77 1223.91 L1445.37 1223.59 L1445.95 1223.27 L1446.53 1222.94 L1447.09 1222.62 L1447.64 1222.30 L1448.18 1221.97 L1448.72 1221.65 L1449.24 1221.33 L1449.76 1221.01 L1450.26 1220.69 L1450.76 1220.37 L1451.25 1220.05 L1451.73 1219.72 L1452.21 1219.40 L1452.67 1219.09 L1453.13 1218.77 L1453.59 1218.45 L1454.04 1218.13 L1454.48 1217.81 L1454.91 1217.49 L1455.34 1217.17 L1455.77 1216.86 L1456.19 1216.53 L1457.00 1215.91 L1457.81 1215.27 L1458.59 1214.64 L1459.35 1214.01 L1460.10 1213.38 L1460.84 1212.76 L1461.55 1212.13 L1462.26 1211.50 L1462.95 1210.88 L1463.63 1210.26 L1464.30 1209.63 L1464.96 1209.01 L1465.61 1208.39 L1466.24 1207.77 L1466.87 1207.15 L1467.49 1206.53 L1468.10 1205.91 L1468.70 1205.29 L1469.29 1204.67 L1469.88 1204.06 L1470.46 1203.44 L1471.03 1202.82 L1471.59 1202.21 L1472.15 1201.59 L1472.70 1200.97 L1473.25 1200.36 L1473.79 1199.74 L1474.32 1199.13 L1474.85 1198.51 L1475.37 1197.90 L1475.89 1197.28 L1476.40 1196.67 L1476.90 1196.05 L1477.40 1195.44 L1477.90 1194.82 L1478.39 1194.20 L1478.87 1193.59 L1479.35 1192.97 L1479.83 1192.36 L1480.29 1191.74 L1480.76 1191.13 L1481.22 1190.51 L1481.67 1189.90 L1482.12 1189.28 L1482.57 1188.66 L1483.01 1188.05 L1483.44 1187.43 L1483.87 1186.81 L1484.29 1186.19 L1484.71 1185.58 L1485.13 1184.96 L1485.53 1184.34 L1485.94 1183.72 L1486.34 1183.10 L1486.73 1182.48 L1487.12 1181.87 L1487.50 1181.25 L1487.88 1180.63 L1488.25 1180.01 L1488.62 1179.39 L1488.98 1178.77 L1489.34 1178.15 L1489.69 1177.53 L1490.04 1176.91 L1490.38 1176.29 L1490.72 1175.67 L1491.05 1175.05 L1491.38 1174.43 L1491.71 1173.81 L1492.02 1173.19 L1492.34 1172.57 L1492.65 1171.95 L1492.95 1171.33 L1493.25 1170.71 L1493.55 1170.09 L1493.84 1169.47 L1494.12 1168.86 L1494.41 1168.24 L1494.68 1167.62 L1494.96 1167.00 L1495.23 1166.38 L1495.49 1165.76 L1495.75 1165.14 L1496.01 1164.52 L1496.26 1163.90 L1496.51 1163.29 L1496.76 1162.67 L1497.00 1162.05 L1497.24 1161.43 L1497.47 1160.81 L1497.70 1160.20 L1497.93 1159.58 L1498.15 1158.96 L1498.38 1158.34 L1498.59 1157.73 L1498.81 1157.11 L1499.02 1156.49 L1499.23 1155.88 L1499.43 1155.26 L1499.63 1154.64 L1499.83 1154.03 L1500.03 1153.41 L1500.22 1152.80 L1500.41 1152.18 L1500.60 1151.57 L1500.78 1150.95 L1500.96 1150.34 L1501.14 1149.72 L1501.32 1149.11 L1501.49 1148.49 L1501.66 1147.88 L1501.83 1147.26 L1502.00 1146.65 L1502.16 1146.04 L1502.32 1145.42 L1502.48 1144.81 L1502.64 1144.20 L1502.80 1143.58 L1502.95 1142.97 L1503.10 1142.36 L1503.25 1141.75 L1503.40 1141.13 L1503.54 1140.52 L1503.69 1139.91 L1503.83 1139.30 L1503.97 1138.68 L1504.10 1138.07 L1504.24 1137.46 L1504.37 1136.85 L1504.50 1136.24 L1504.63 1135.63 L1504.76 1135.02 L1504.89 1134.41 L1505.01 1133.80 L1505.14 1133.18 L1505.26 1132.57 L1505.38 1131.96 L1505.50 1131.35 L1505.61 1130.74 L1505.73 1130.13 L1505.84 1129.52 L1505.96 1128.91 L1506.07 1128.31 L1506.18 1127.70 L1506.29 1127.09 L1506.39 1126.48 L1506.50 1125.87 L1506.60 1125.26 L1506.71 1124.65 L1506.86 1123.74 L1507.01 1122.82 L1507.15 1121.91 L1507.30 1121.00 L1507.44 1120.09 L1507.58 1119.17 L1507.71 1118.26 L1507.85 1117.35 L1507.98 1116.44 L1508.11 1115.53 L1508.24 1114.62 L1508.36 1113.71 L1508.48 1112.80 L1508.60 1111.89 L1508.72 1110.98 L1508.84 1110.07 L1508.95 1109.16 L1509.06 1108.25 L1509.17 1107.34 L1509.28 1106.43 L1509.39 1105.52 L1509.49 1104.61 L1509.59 1103.70 L1509.69 1102.79 L1509.79 1101.88 L1509.89 1100.97 L1509.98 1100.06 L1510.08 1099.16 L1510.17 1098.25 L1510.26 1097.34 L1510.35 1096.43 L1510.44 1095.53 L1510.52 1094.62 L1510.61 1093.71 L1510.69 1092.80 L1510.78 1091.90 L1510.86 1090.99 L1510.94 1090.08 L1511.02 1089.18 L1511.09 1088.27 L1511.17 1087.37 L1511.24 1086.46 L1511.32 1085.54 L1511.77 1079.76 L1512.18 1073.97 L1512.56 1068.18 L1512.92 1062.40 L1513.24 1056.62 L1513.55 1050.84 L1513.84 1045.06 L1514.12 1039.29 L1514.38 1033.51 L1514.63 1027.74 L1514.88 1021.97 L1515.11 1016.20 L1515.34 1010.43 L1515.55 1004.66 L1515.77 998.89 L1515.98 993.12 L1516.18 987.35 L1516.39 981.59 L1516.59 975.82 L1516.79 970.06 L1516.98 964.29 L1517.18 958.52 L1517.37 952.76 L1517.56 946.99 L1517.76 941.23 L1517.95 935.46 L1518.14 929.70 L1518.33 923.93 L1518.51 918.16 L1518.70 912.40 L1518.88 906.63 L1519.07 900.87 L1519.25 895.10 L1519.43 889.33 L1519.60 883.57 L1519.78 877.80 L1519.95 872.03 L1520.12 866.27 L1520.28 860.50 L1520.45 854.73 L1520.61 848.97 L1520.77 843.20 L1520.93 837.44 L1521.08 831.67 L1521.24 825.90 L1521.39 820.14 L1521.53 814.37 L1521.68 808.60 L1521.82 802.84 L1521.96 797.07 L1522.10 791.30 L1522.24 785.54 L1522.37 779.77 L1522.50 774.00 L1522.63 768.24 L1522.76 762.47 L1522.88 756.70 L1523.00 750.94 L1523.12 745.17 L1523.24 739.40 L1523.35 733.64 L1523.46 727.87 L1523.57 722.10 L1523.68 716.34 L1523.79 710.57 L1523.89 704.80 L1523.99 699.04 L1524.09 693.27 L1524.19 687.51 L1524.28 681.74 L1524.37 675.97 L1524.46 670.21 L1524.55 664.44 L1524.64 658.67 L1524.72 652.91 L1524.81 647.14 L1524.89 641.38 L1524.97 635.61 L1525.04 629.84 L1525.12 624.08 L1525.19 618.31 L1525.26 612.54 L1525.33 606.78 L1525.40 601.01 L1525.47 595.25 L1525.53 589.48 L1525.60 583.71 L1525.66 577.95 L1525.72 572.18 L1525.78 566.42 L1525.83 560.65 L1525.89 554.88 L1525.94 549.12 L1526.00 543.35 L1526.05 537.59 L1526.10 531.82 L1526.14 526.06 L1526.19 520.29 L1526.24 514.52 L1526.28 508.76 L1526.32 502.99 L1526.36 497.23 L1526.40 491.46 L1526.44 485.70 L1526.48 479.93 L1526.52 474.16 L1526.55 468.40 L1526.59 462.63 L1526.62 456.87 L1526.65 451.10 L1526.68 445.34 L1526.71 439.57 L1526.74 433.81 L1526.77 428.04 L1526.80 422.27 L1526.82 416.51 L1526.85 410.74 L1526.87 404.98 L1526.90 399.21 L1526.92 393.45 L1526.94 387.68 L1526.97 381.92 L1526.99 376.15 L1527.01 370.39 L1527.03 364.62 L1527.05 358.86 L1527.07 353.09 L1527.10 347.33 L1527.12 341.56 L1527.14 335.80 L1527.16 330.04 L1527.18 324.27 L1527.21 318.51 L1527.24 312.75 L1527.27 306.98 L1527.30 301.22 L1527.34 295.47 L1527.40 289.72 L1527.50 283.98Z M1518.90 284.83 L1520.06 290.27 L1520.32 295.64 L1520.54 301.34 L1520.70 307.07 L1520.83 312.82 L1520.94 318.57 L1521.04 324.32 L1521.13 330.08 L1521.20 335.84 L1521.28 341.60 L1521.35 347.36 L1521.41 353.13 L1521.48 358.89 L1521.54 364.65 L1521.60 370.42 L1521.66 376.18 L1521.72 381.95 L1521.78 387.71 L1521.84 393.48 L1521.90 399.24 L1521.96 405.01 L1522.03 410.77 L1522.09 416.54 L1522.16 422.30 L1522.22 428.07 L1522.29 433.84 L1522.36 439.60 L1522.44 445.37 L1522.51 451.14 L1522.59 456.90 L1522.67 462.67 L1522.75 468.43 L1522.83 474.20 L1522.92 479.97 L1523.00 485.73 L1523.09 491.50 L1523.19 497.27 L1523.28 503.03 L1523.38 508.80 L1523.47 514.57 L1523.58 520.33 L1523.68 526.10 L1523.78 531.87 L1523.89 537.63 L1524.00 543.40 L1524.11 549.16 L1524.23 554.93 L1524.34 560.70 L1524.46 566.46 L1524.58 572.23 L1524.70 578.00 L1524.82 583.76 L1524.95 589.53 L1525.07 595.29 L1525.20 601.06 L1525.33 606.82 L1525.46 612.59 L1525.59 618.36 L1525.72 624.12 L1525.85 629.89 L1525.99 635.65 L1526.13 641.42 L1526.26 647.18 L1526.40 652.95 L1526.54 658.72 L1526.68 664.48 L1526.82 670.25 L1526.97 676.01 L1527.11 681.78 L1527.26 687.54 L1527.41 693.31 L1527.56 699.08 L1527.71 704.84 L1527.86 710.61 L1528.01 716.37 L1528.17 722.14 L1528.33 727.91 L1528.48 733.67 L1528.64 739.44 L1528.80 745.20 L1528.97 750.97 L1529.13 756.73 L1529.29 762.50 L1529.46 768.27 L1529.63 774.03 L1529.80 779.80 L1529.97 785.56 L1530.14 791.33 L1530.31 797.09 L1530.48 802.86 L1530.66 808.63 L1530.83 814.39 L1531.01 820.16 L1531.19 825.92 L1531.37 831.69 L1531.55 837.45 L1531.73 843.22 L1531.91 848.98 L1532.09 854.75 L1532.27 860.51 L1532.45 866.28 L1532.64 872.04 L1532.82 877.81 L1533.00 883.57 L1533.19 889.34 L1533.37 895.10 L1533.55 900.87 L1533.73 906.63 L1533.91 912.39 L1534.09 918.16 L1534.26 923.92 L1534.44 929.68 L1534.61 935.45 L1534.78 941.21 L1534.95 946.97 L1535.11 952.73 L1535.27 958.50 L1535.43 964.26 L1535.58 970.02 L1535.73 975.78 L1535.88 981.55 L1536.02 987.31 L1536.17 993.07 L1536.31 998.84 L1536.45 1004.60 L1536.60 1010.37 L1536.74 1016.13 L1536.89 1021.90 L1537.04 1027.67 L1537.19 1033.44 L1537.36 1039.21 L1537.53 1044.98 L1537.71 1050.76 L1537.91 1056.53 L1538.13 1062.31 L1538.36 1068.09 L1538.63 1073.88 L1538.92 1079.67 L1539.25 1085.45 L1539.31 1086.37 L1539.37 1087.28 L1539.43 1088.19 L1539.48 1089.09 L1539.55 1090.00 L1539.61 1090.91 L1539.67 1091.81 L1539.74 1092.72 L1539.80 1093.63 L1539.87 1094.54 L1539.94 1095.44 L1540.01 1096.35 L1540.08 1097.26 L1540.16 1098.17 L1540.23 1099.08 L1540.31 1099.99 L1540.39 1100.90 L1540.47 1101.81 L1540.55 1102.72 L1540.64 1103.63 L1540.72 1104.54 L1540.81 1105.45 L1540.90 1106.36 L1541.00 1107.27 L1541.09 1108.18 L1541.19 1109.09 L1541.29 1110.00 L1541.39 1110.92 L1541.50 1111.83 L1541.61 1112.74 L1541.72 1113.65 L1541.83 1114.57 L1541.95 1115.48 L1542.07 1116.40 L1542.19 1117.31 L1542.32 1118.22 L1542.45 1119.14 L1542.58 1120.05 L1542.71 1120.97 L1542.85 1121.89 L1543.00 1122.80 L1543.14 1123.72 L1543.29 1124.64 L1543.44 1125.55 L1543.55 1126.17 L1543.66 1126.78 L1543.76 1127.39 L1543.87 1128.00 L1543.98 1128.61 L1544.10 1129.22 L1544.21 1129.84 L1544.33 1130.45 L1544.45 1131.06 L1544.57 1131.67 L1544.69 1132.28 L1544.82 1132.90 L1544.94 1133.51 L1545.07 1134.12 L1545.20 1134.73 L1545.33 1135.35 L1545.47 1135.96 L1545.60 1136.57 L1545.74 1137.19 L1545.88 1137.80 L1546.02 1138.41 L1546.17 1139.03 L1546.32 1139.64 L1546.46 1140.25 L1546.62 1140.87 L1546.77 1141.48 L1546.92 1142.09 L1547.08 1142.71 L1547.24 1143.32 L1547.40 1143.94 L1547.57 1144.55 L1547.74 1145.16 L1547.90 1145.78 L1548.08 1146.39 L1548.25 1147.00 L1548.43 1147.62 L1548.60 1148.23 L1548.79 1148.85 L1548.97 1149.46 L1549.15 1150.07 L1549.34 1150.69 L1549.53 1151.30 L1549.73 1151.92 L1549.92 1152.53 L1550.12 1153.15 L1550.32 1153.76 L1550.52 1154.37 L1550.73 1154.99 L1550.94 1155.60 L1551.15 1156.22 L1551.36 1156.83 L1551.58 1157.45 L1551.80 1158.06 L1552.02 1158.68 L1552.25 1159.29 L1552.48 1159.91 L1552.71 1160.52 L1552.95 1161.14 L1553.19 1161.76 L1553.43 1162.38 L1553.68 1162.99 L1553.93 1163.61 L1554.18 1164.23 L1554.44 1164.85 L1554.70 1165.47 L1554.97 1166.09 L1555.24 1166.71 L1555.52 1167.33 L1555.80 1167.95 L1556.09 1168.57 L1556.38 1169.19 L1556.68 1169.81 L1556.98 1170.43 L1557.28 1171.05 L1557.59 1171.68 L1557.91 1172.30 L1558.23 1172.92 L1558.56 1173.54 L1558.90 1174.17 L1559.24 1174.79 L1559.58 1175.41 L1559.94 1176.04 L1560.30 1176.66 L1560.66 1177.28 L1561.03 1177.91 L1561.41 1178.53 L1561.80 1179.15 L1562.19 1179.78 L1562.59 1180.40 L1562.99 1181.03 L1563.40 1181.65 L1563.82 1182.27 L1564.25 1182.90 L1564.68 1183.52 L1565.12 1184.14 L1565.57 1184.77 L1566.02 1185.39 L1566.49 1186.01 L1566.96 1186.64 L1567.43 1187.26 L1567.92 1187.88 L1568.41 1188.50 L1568.91 1189.13 L1569.42 1189.75 L1569.93 1190.37 L1570.45 1190.99 L1570.98 1191.61 L1571.52 1192.23 L1572.07 1192.85 L1572.62 1193.48 L1573.18 1194.10 L1573.75 1194.72 L1574.32 1195.34 L1574.91 1195.96 L1575.50 1196.58 L1576.10 1197.20 L1576.71 1197.82 L1577.32 1198.43 L1577.95 1199.05 L1578.58 1199.67 L1579.22 1200.29 L1579.87 1200.91 L1580.53 1201.53 L1581.19 1202.15 L1581.87 1202.77 L1582.55 1203.39 L1583.25 1204.01 L1583.95 1204.63 L1584.66 1205.25 L1585.39 1205.87 L1586.12 1206.49 L1586.87 1207.11 L1587.62 1207.73 L1588.39 1208.35 L1589.17 1208.97 L1589.97 1209.60 L1590.77 1210.22 L1591.58 1210.84 L1592.01 1211.15 L1592.42 1211.47 L1592.85 1211.78 L1593.27 1212.09 L1593.70 1212.40 L1594.14 1212.72 L1594.57 1213.03 L1595.02 1213.34 L1595.46 1213.65 L1595.91 1213.97 L1596.37 1214.28 L1596.83 1214.59 L1597.29 1214.91 L1597.76 1215.22 L1598.24 1215.53 L1598.71 1215.85 L1599.20 1216.16 L1599.69 1216.48 L1600.18 1216.79 L1600.69 1217.11 L1601.19 1217.42 L1601.70 1217.73 L1602.22 1218.05 L1602.75 1218.37 L1603.28 1218.68 L1603.82 1219.00 L1604.36 1219.31 L1604.91 1219.63 L1605.47 1219.94 L1606.04 1220.26 L1606.62 1220.58 L1607.20 1220.89 L1607.79 1221.21 L1608.39 1221.53 L1609.00 1221.84 L1609.61 1222.16 L1610.24 1222.48 L1610.88 1222.79 L1611.52 1223.11 L1612.18 1223.43 L1612.85 1223.74 L1613.53 1224.06 L1614.22 1224.38 L1614.92 1224.70 L1615.64 1225.01 L1616.37 1225.33 L1617.11 1225.65 L1617.87 1225.97 L1618.64 1226.29 L1619.43 1226.60 L1620.23 1226.92 L1621.05 1227.24 L1621.89 1227.56 L1622.74 1227.87 L1623.62 1228.19 L1624.51 1228.51 L1625.43 1228.83 L1626.37 1229.14 L1627.33 1229.46 L1628.32 1229.78 L1629.33 1230.09 L1630.37 1230.41 L1631.44 1230.73 L1632.54 1231.04 L1633.67 1231.36 L1634.84 1231.67 L1636.04 1231.99 L1637.28 1232.30 L1638.57 1232.62 L1639.89 1232.93 L1641.27 1233.25 L1642.70 1233.56 L1644.18 1233.87 L1645.72 1234.19 L1647.33 1234.50 L1649.00 1234.81 L1650.76 1235.12 L1652.59 1235.43 L1654.52 1235.75 L1656.54 1236.06 L1658.67 1236.36 L1660.93 1236.67 L1663.32 1236.98 L1665.87 1237.29 L1668.59 1237.60 L1671.50 1237.90 L1674.63 1238.21 L1678.02 1238.52 L1681.71 1238.82 L1685.75 1239.13 L1690.29 1239.44 L1696.37 1239.60 L1696.59 1230.80 L1690.67 1230.66 L1686.37 1230.37 L1682.39 1230.08 L1678.77 1229.78 L1675.44 1229.49 L1672.37 1229.19 L1669.52 1228.90 L1666.87 1228.61 L1664.39 1228.31 L1662.07 1228.02 L1659.87 1227.73 L1657.80 1227.44 L1655.84 1227.15 L1653.98 1226.86 L1652.21 1226.57 L1650.53 1226.28 L1648.92 1225.99 L1647.37 1225.70 L1645.90 1225.41 L1644.48 1225.13 L1643.11 1224.84 L1641.80 1224.55 L1640.53 1224.27 L1639.31 1223.98 L1638.13 1223.70 L1636.98 1223.41 L1635.88 1223.13 L1634.80 1222.84 L1633.76 1222.56 L1632.75 1222.27 L1631.77 1221.99 L1630.81 1221.70 L1629.88 1221.42 L1628.97 1221.14 L1628.09 1220.85 L1627.22 1220.57 L1626.38 1220.29 L1625.56 1220.00 L1624.75 1219.72 L1623.96 1219.44 L1623.19 1219.15 L1622.44 1218.87 L1621.70 1218.59 L1620.97 1218.31 L1620.26 1218.02 L1619.57 1217.74 L1618.88 1217.46 L1618.21 1217.17 L1617.55 1216.89 L1616.90 1216.61 L1616.26 1216.33 L1615.63 1216.04 L1615.02 1215.76 L1614.41 1215.48 L1613.81 1215.19 L1613.22 1214.91 L1612.64 1214.62 L1612.07 1214.34 L1611.51 1214.06 L1610.96 1213.77 L1610.41 1213.49 L1609.87 1213.20 L1609.34 1212.92 L1608.81 1212.63 L1608.29 1212.35 L1607.78 1212.07 L1607.27 1211.78 L1606.77 1211.49 L1606.28 1211.21 L1605.79 1210.92 L1605.31 1210.64 L1604.83 1210.35 L1604.36 1210.07 L1603.89 1209.78 L1603.43 1209.49 L1602.98 1209.21 L1602.53 1208.92 L1602.08 1208.63 L1601.64 1208.35 L1601.20 1208.06 L1600.76 1207.77 L1600.34 1207.48 L1599.91 1207.20 L1599.49 1206.91 L1599.07 1206.62 L1598.66 1206.33 L1598.25 1206.05 L1597.84 1205.76 L1597.44 1205.47 L1597.04 1205.18 L1596.64 1204.89 L1596.26 1204.61 L1595.48 1204.02 L1594.71 1203.45 L1593.96 1202.87 L1593.23 1202.29 L1592.50 1201.71 L1591.78 1201.13 L1591.08 1200.55 L1590.38 1199.97 L1589.70 1199.39 L1589.02 1198.81 L1588.36 1198.22 L1587.70 1197.64 L1587.05 1197.06 L1586.41 1196.48 L1585.78 1195.90 L1585.16 1195.32 L1584.55 1194.73 L1583.95 1194.15 L1583.35 1193.57 L1582.77 1192.99 L1582.19 1192.41 L1581.62 1191.82 L1581.06 1191.24 L1580.50 1190.66 L1579.96 1190.08 L1579.42 1189.50 L1578.89 1188.92 L1578.37 1188.34 L1577.86 1187.76 L1577.35 1187.18 L1576.86 1186.60 L1576.37 1186.02 L1575.89 1185.44 L1575.42 1184.86 L1574.96 1184.28 L1574.50 1183.70 L1574.05 1183.12 L1573.61 1182.54 L1573.18 1181.96 L1572.76 1181.38 L1572.34 1180.81 L1571.93 1180.23 L1571.53 1179.65 L1571.14 1179.07 L1570.75 1178.49 L1570.37 1177.92 L1570.00 1177.34 L1569.63 1176.76 L1569.27 1176.18 L1568.92 1175.61 L1568.57 1175.03 L1568.23 1174.45 L1567.90 1173.87 L1567.57 1173.30 L1567.25 1172.72 L1566.93 1172.14 L1566.62 1171.56 L1566.32 1170.99 L1566.02 1170.41 L1565.72 1169.83 L1565.43 1169.25 L1565.15 1168.67 L1564.87 1168.09 L1564.59 1167.51 L1564.32 1166.93 L1564.06 1166.36 L1563.80 1165.78 L1563.54 1165.19 L1563.29 1164.61 L1563.04 1164.03 L1562.79 1163.45 L1562.55 1162.87 L1562.31 1162.29 L1562.08 1161.71 L1561.84 1161.12 L1561.62 1160.54 L1561.39 1159.96 L1561.17 1159.38 L1560.95 1158.79 L1560.73 1158.21 L1560.52 1157.62 L1560.31 1157.04 L1560.10 1156.45 L1559.90 1155.87 L1559.69 1155.28 L1559.49 1154.70 L1559.29 1154.11 L1559.10 1153.52 L1558.91 1152.94 L1558.71 1152.35 L1558.53 1151.76 L1558.34 1151.18 L1558.16 1150.59 L1557.97 1150.00 L1557.79 1149.41 L1557.62 1148.83 L1557.44 1148.24 L1557.27 1147.65 L1557.10 1147.07 L1556.93 1146.48 L1556.77 1145.89 L1556.60 1145.30 L1556.44 1144.72 L1556.28 1144.13 L1556.12 1143.54 L1555.97 1142.96 L1555.82 1142.37 L1555.67 1141.78 L1555.52 1141.19 L1555.37 1140.61 L1555.22 1140.02 L1555.08 1139.43 L1554.94 1138.84 L1554.80 1138.25 L1554.67 1137.67 L1554.53 1137.08 L1554.40 1136.49 L1554.27 1135.90 L1554.14 1135.32 L1554.01 1134.73 L1553.88 1134.14 L1553.76 1133.55 L1553.64 1132.96 L1553.52 1132.37 L1553.40 1131.79 L1553.28 1131.20 L1553.17 1130.61 L1553.05 1130.02 L1552.94 1129.43 L1552.83 1128.84 L1552.72 1128.25 L1552.62 1127.66 L1552.51 1127.07 L1552.41 1126.48 L1552.31 1125.89 L1552.21 1125.31 L1552.11 1124.72 L1552.01 1124.13 L1551.87 1123.24 L1551.73 1122.36 L1551.59 1121.47 L1551.46 1120.59 L1551.33 1119.70 L1551.20 1118.81 L1551.08 1117.93 L1550.96 1117.04 L1550.84 1116.15 L1550.72 1115.27 L1550.61 1114.38 L1550.50 1113.49 L1550.39 1112.60 L1550.29 1111.71 L1550.18 1110.82 L1550.08 1109.93 L1549.99 1109.05 L1549.89 1108.16 L1549.80 1107.27 L1549.71 1106.37 L1549.62 1105.48 L1549.53 1104.59 L1549.44 1103.70 L1549.36 1102.81 L1549.28 1101.92 L1549.20 1101.03 L1549.12 1100.13 L1549.04 1099.24 L1548.97 1098.35 L1548.90 1097.46 L1548.83 1096.56 L1548.76 1095.67 L1548.69 1094.78 L1548.62 1093.88 L1548.55 1092.99 L1548.49 1092.09 L1548.43 1091.20 L1548.37 1090.30 L1548.31 1089.41 L1548.25 1088.52 L1548.19 1087.62 L1548.13 1086.72 L1548.08 1085.83 L1548.02 1084.95 L1547.70 1079.20 L1547.41 1073.46 L1547.15 1067.72 L1546.91 1061.97 L1546.70 1056.22 L1546.50 1050.47 L1546.32 1044.71 L1546.15 1038.95 L1545.99 1033.20 L1545.83 1027.44 L1545.68 1021.67 L1545.53 1015.91 L1545.39 1010.15 L1545.25 1004.38 L1545.10 998.62 L1544.96 992.85 L1544.82 987.09 L1544.67 981.32 L1544.52 975.56 L1544.37 969.79 L1544.22 964.02 L1544.06 958.26 L1543.90 952.49 L1543.74 946.72 L1543.57 940.95 L1543.40 935.19 L1543.23 929.42 L1543.06 923.65 L1542.88 917.89 L1542.70 912.12 L1542.52 906.36 L1542.34 900.59 L1542.16 894.82 L1541.98 889.06 L1541.79 883.29 L1541.61 877.53 L1541.43 871.76 L1541.25 866.00 L1541.06 860.24 L1540.88 854.47 L1540.70 848.71 L1540.52 842.94 L1540.34 837.18 L1540.16 831.41 L1539.98 825.65 L1539.80 819.89 L1539.63 814.12 L1539.45 808.36 L1539.27 802.59 L1539.10 796.83 L1538.93 791.07 L1538.76 785.30 L1538.59 779.54 L1538.42 773.78 L1538.25 768.01 L1538.09 762.25 L1537.92 756.48 L1537.76 750.72 L1537.60 744.96 L1537.44 739.19 L1537.28 733.43 L1537.12 727.67 L1536.96 721.90 L1536.81 716.14 L1536.65 710.37 L1536.50 704.61 L1536.35 698.85 L1536.20 693.08 L1536.05 687.32 L1535.91 681.56 L1535.76 675.79 L1535.62 670.03 L1535.48 664.27 L1535.34 658.50 L1535.20 652.74 L1535.06 646.97 L1534.92 641.21 L1534.78 635.45 L1534.65 629.68 L1534.52 623.92 L1534.38 618.15 L1534.25 612.39 L1534.12 606.63 L1533.99 600.86 L1533.87 595.10 L1533.74 589.34 L1533.62 583.57 L1533.49 577.81 L1533.37 572.05 L1533.25 566.28 L1533.14 560.52 L1533.02 554.76 L1532.91 548.99 L1532.80 543.23 L1532.69 537.47 L1532.58 531.70 L1532.48 525.94 L1532.37 520.18 L1532.27 514.41 L1532.17 508.65 L1532.08 502.89 L1531.98 497.12 L1531.89 491.36 L1531.80 485.60 L1531.72 479.84 L1531.63 474.07 L1531.55 468.31 L1531.47 462.55 L1531.39 456.78 L1531.31 451.02 L1531.24 445.26 L1531.16 439.49 L1531.09 433.73 L1531.02 427.97 L1530.95 422.20 L1530.89 416.44 L1530.82 410.68 L1530.76 404.91 L1530.70 399.15 L1530.64 393.38 L1530.58 387.62 L1530.52 381.85 L1530.46 376.09 L1530.40 370.33 L1530.34 364.56 L1530.27 358.79 L1530.21 353.03 L1530.15 347.26 L1530.08 341.49 L1530.00 335.72 L1529.92 329.95 L1529.84 324.18 L1529.74 318.41 L1529.63 312.63 L1529.49 306.85 L1529.33 301.05 L1529.10 295.22 L1528.70 289.06 L1527.30 282.97Z"/>
</g>
</g>
<rect x="210.2" y="219.9" width="26.8" height="6" fill="#000"/>
<rect x="210.2" y="322.2" width="26.8" height="6" fill="#000"/>
<rect x="210.2" y="424.4" width="26.8" height="6" fill="#000"/>
<rect x="210.2" y="527.7" width="26.8" height="6" fill="#000"/>
<rect x="210.2" y="628.2" width="26.8" height="6" fill="#000"/>
<rect x="210.2" y="730.9" width="26.8" height="6" fill="#000"/>
<rect x="210.2" y="835.8" width="26.8" height="6" fill="#000"/>
<rect x="210.2" y="935" width="26.8" height="6" fill="#000"/>
<rect x="210.2" y="1042.2" width="26.8" height="6" fill="#000"/>
<rect x="210.2" y="1139.3" width="26.8" height="6" fill="#000"/>
<rect x="210.2" y="1232.3" width="26.8" height="6" fill="#000"/>
<rect x="558.5" y="165.8" width="6.4" height="22.8" fill="#000"/>
<rect x="861.7" y="165.8" width="6.4" height="22.8" fill="#000"/>
<rect x="1165" y="165.8" width="6.4" height="22.8" fill="#000"/>
<rect x="1518.1" y="165.8" width="6.4" height="22.8" fill="#000"/>
<rect x="436.5" y="1266.3" width="8" height="26.1" fill="#000"/>
<rect x="903.6" y="1266.3" width="8" height="26.1" fill="#000"/>
<rect x="1383.4" y="1266.3" width="8" height="26.1" fill="#000"/>
<rect x="1845.9" y="1266.3" width="8" height="26.1" fill="#000"/>
<rect x="667" y="1266.3" width="5" height="22.5" fill="#000"/>
<rect x="1133.9" y="1266.3" width="5" height="22.5" fill="#000"/>
<rect x="1610" y="1266.3" width="5" height="22.5" fill="#000"/>
<rect x="278.6" y="1266.3" width="3.6" height="14.1" fill="#555"/>
<rect x="356.6" y="1266.3" width="3.6" height="14.1" fill="#555"/>
<rect x="516.7" y="1266.3" width="3.6" height="14.1" fill="#555"/>
<rect x="589.7" y="1266.3" width="3.6" height="14.1" fill="#555"/>
<rect x="741.4" y="1266.3" width="3.6" height="15.5" fill="#555"/>
<rect x="823.5" y="1266.3" width="3.6" height="14.1" fill="#555"/>
<rect x="983.4" y="1266.3" width="3.6" height="14.1" fill="#555"/>
<rect x="1061.4" y="1266.3" width="3.6" height="14.1" fill="#555"/>
<rect x="1217.1" y="1266.3" width="3.6" height="14.1" fill="#555"/>
<rect x="1303.5" y="1266.3" width="3.6" height="15.5" fill="#555"/>
<rect x="1459" y="1266.3" width="3.6" height="14.1" fill="#555"/>
<rect x="1532.5" y="1266.3" width="3.6" height="14.1" fill="#555"/>
<rect x="1692.1" y="1266.3" width="3.6" height="15.5" fill="#555"/>
<rect x="1770.1" y="1266.3" width="3.6" height="15.5" fill="#555"/>
<rect x="1920.9" y="1266.3" width="3.6" height="14.1" fill="#555"/>
<rect x="1999.1" y="1266.3" width="3.6" height="15.5" fill="#555"/>
<text transform="translate(108.74 242.74) scale(0.6249 0.6092)" font-weight="700" fill="#000" stroke="#fff" stroke-width="1.13" stroke-linejoin="miter">1.0</text>
<text transform="translate(112.73 341.15) scale(0.6309 0.6021)" font-weight="700" fill="#000" stroke="#fff" stroke-width="1.14" stroke-linejoin="miter">0.9</text>
<text transform="translate(108.15 445.74) scale(0.6247 0.6106)" font-weight="700" fill="#000" stroke="#fff" stroke-width="1.13" stroke-linejoin="miter">0.8</text>
<text transform="translate(112.71 545.84) scale(0.6345 0.6092)" font-weight="700" fill="#000" stroke="#fff" stroke-width="1.13" stroke-linejoin="miter">0.7</text>
<text transform="translate(108.14 650.15) scale(0.6271 0.5979)" font-weight="700" fill="#000" stroke="#fff" stroke-width="1.14" stroke-linejoin="miter">0.6</text>
<text transform="translate(112.74 751.14) scale(0.6273 0.6092)" font-weight="700" fill="#000" stroke="#fff" stroke-width="1.13" stroke-linejoin="miter">0.5</text>
<text transform="translate(108.2 855.24) scale(0.6131 0.6106)" font-weight="700" fill="#000" stroke="#fff" stroke-width="1.14" stroke-linejoin="miter">0.4</text>
<text transform="translate(112.73 953.59) scale(0.6309 0.6070)" font-weight="700" fill="#000" stroke="#fff" stroke-width="1.13" stroke-linejoin="miter">0.3</text>
<text transform="translate(108.13 1060.35) scale(0.6295 0.6021)" font-weight="700" fill="#000" stroke="#fff" stroke-width="1.14" stroke-linejoin="miter">0.2</text>
<text transform="translate(112.93 1157.76) scale(0.5789 0.5894)" font-weight="700" fill="#000" stroke="#fff" stroke-width="1.20" stroke-linejoin="miter">0.1</text>
<text transform="translate(108.13 1262.55) scale(0.6295 0.6007)" font-weight="700" fill="#000" stroke="#fff" stroke-width="1.14" stroke-linejoin="miter">0.0</text>
<text transform="translate(496.58 150.94) scale(0.6416 0.6106)" font-weight="700" fill="#000" stroke="#fff" stroke-width="1.12" stroke-linejoin="miter">0.46</text>
<text transform="translate(794.16 150.79) scale(0.6236 0.6085)" font-weight="700" fill="#000" stroke="#fff" stroke-width="1.14" stroke-linejoin="miter">0.34</text>
<text transform="translate(1124.48 150.94) scale(0.6358 0.6106)" font-weight="700" fill="#000" stroke="#fff" stroke-width="1.12" stroke-linejoin="miter">1.0</text>
<text transform="translate(1456.06 150.94) scale(0.6236 0.6106)" font-weight="700" fill="#000" stroke="#fff" stroke-width="1.13" stroke-linejoin="miter">0.85</text>
<text transform="translate(370.32 1361.92) scale(0.6294 0.6261)" font-weight="700" fill="#000" stroke="#fff" stroke-width="1.12" stroke-linejoin="miter">1.28</text>
<text transform="translate(612.91 1361.92) scale(0.6311 0.6261)" font-weight="700" fill="#000" stroke="#fff" stroke-width="1.11" stroke-linejoin="miter">1.29</text>
<text transform="translate(842.1 1361.77) scale(0.6328 0.6239)" font-weight="700" fill="#000" stroke="#fff" stroke-width="1.11" stroke-linejoin="miter">1.30</text>
<text transform="translate(1085.34 1361.77) scale(0.5940 0.6239)" font-weight="700" fill="#000" stroke="#fff" stroke-width="1.15" stroke-linejoin="miter">1.31</text>
<text transform="translate(1329.69 1361.77) scale(0.6333 0.6239)" font-weight="700" fill="#000" stroke="#fff" stroke-width="1.11" stroke-linejoin="miter">1.32</text>
<text transform="translate(1556.02 1361.77) scale(0.6294 0.6239)" font-weight="700" fill="#000" stroke="#fff" stroke-width="1.12" stroke-linejoin="miter">1.33</text>
<text transform="translate(1798.71 1361.77) scale(0.6300 0.6239)" font-weight="700" fill="#000" stroke="#fff" stroke-width="1.12" stroke-linejoin="miter">1.34</text>
<text transform="translate(945.84 66.35) scale(0.6981 0.6580)" font-weight="700" fill="#000" stroke="#fff" stroke-width="1.03" stroke-linejoin="miter">FWHM (nm)</text>
<text transform="translate(874.48 1446.85) scale(0.6890 0.6387)" font-weight="700" fill="#000" stroke="#fff" stroke-width="1.05" stroke-linejoin="miter">Wavelength λ(µm)</text>
<text transform="translate(66.75 1105.56) rotate(-90) scale(0.6242 0.7240)" font-weight="700" fill="#000" stroke="#fff" stroke-width="1.04" stroke-linejoin="miter">Normalized Transmission</text>
<text transform="translate(492.43 258.2) rotate(90) scale(0.5671 0.6678)" font-weight="700" fill="#00B050" stroke="#00B050" stroke-width="0.40" stroke-linejoin="round">Biotin-Stertavidin (n=1.45)</text>
<text transform="translate(422.02 395.06) rotate(90) scale(0.5663 0.6622)" font-weight="700" fill="#00B050" stroke="#00B050" stroke-width="0.41" stroke-linejoin="round">Q.factor=6270.18</text>
<text transform="translate(794.23 411.99) rotate(90) scale(0.5677 0.6622)" font-weight="700" fill="#C00000" stroke="#C00000" stroke-width="0.41" stroke-linejoin="round">Red Blood Cells (n=1.40)</text>
<text transform="translate(716.33 529.06) rotate(90) scale(0.5672 0.6622)" font-weight="700" fill="#C00000" stroke="#C00000" stroke-width="0.41" stroke-linejoin="round">Q.factor=5928.74</text>
<text transform="translate(1084.22 302.48) rotate(90) scale(0.5678 0.6692)" font-weight="700" fill="#1E00D2" stroke="#1E00D2" stroke-width="0.40" stroke-linejoin="round">Withe Blood Cells (n=1.36)</text>
<text transform="translate(1009.02 448.25) rotate(90) scale(0.5677 0.6622)" font-weight="700" fill="#1E00D2" stroke="#1E00D2" stroke-width="0.41" stroke-linejoin="round">Q.factor=6205.20</text>
<text transform="translate(1438.33 277.89) rotate(90) scale(0.5684 0.6538)" font-weight="700" fill="#EC009C" stroke="#EC009C" stroke-width="0.41" stroke-linejoin="round">Blood Plasma (n=1.35)</text>
<text transform="translate(1358.03 371.46) rotate(90) scale(0.5661 0.6608)" font-weight="700" fill="#EC009C" stroke="#EC009C" stroke-width="0.41" stroke-linejoin="round">Q.factor=1560.5</text>
<rect x="1568.2" y="539.5" width="461.6" height="13" fill="#9fc4ea" opacity="0.75" filter="url(#soft)"/>
<rect x="2021.8" y="253.5" width="11" height="292" fill="#c4daf2" opacity="0.6" filter="url(#soft)"/>
<rect x="1565.2" y="247.5" width="464.6" height="300" fill="#000"/>
<rect x="1565.2" y="244.9" width="451.8" height="292.5" fill="#000"/>
<rect x="1568" y="246.9" width="447.8" height="288.5" fill="#F2F2F2"/>
<rect x="1568" y="246.9" width="1.6" height="288.5" fill="#9c9c9c"/>
<rect x="1568" y="533.1" width="447.8" height="2.3" fill="#c2c2c2"/>
<rect x="2013.4" y="246.9" width="2.4" height="288.5" fill="#5a5a5a"/>
<rect x="1733.1" y="881.7" width="277.7" height="13" fill="#9fc4ea" opacity="0.75" filter="url(#soft)"/>
<rect x="2002.8" y="613.9" width="11" height="273.8" fill="#c4daf2" opacity="0.6" filter="url(#soft)"/>
<rect x="1730.1" y="607.9" width="280.7" height="281.8" fill="#000"/>
<rect x="1726.3" y="604.1" width="275.4" height="274.6" fill="#000"/>
<rect x="1729.1" y="606.1" width="271.4" height="270.6" fill="#F2F2F2"/>
<rect x="1729.1" y="606.1" width="1.6" height="270.6" fill="#9c9c9c"/>
<rect x="1729.1" y="874.4" width="271.4" height="2.3" fill="#c2c2c2"/>
<rect x="1998.1" y="606.1" width="2.4" height="270.6" fill="#5a5a5a"/>
<text transform="translate(1633.69 308.45) scale(0.5673 0.5046)" font-weight="700" fill="#00B050"><tspan x="-91.74" y="0.00" textLength="51.31" lengthAdjust="spacingAndGlyphs">λ</tspan><tspan x="-37.24" y="12.79" font-size="68.6" textLength="37.77" lengthAdjust="spacingAndGlyphs">0</tspan><tspan x="0.00" y="0.00">=1.286433µm</tspan></text>
<text transform="translate(1633.69 377.65) scale(0.5673 0.5046)" font-weight="700" fill="#C00000"><tspan x="-91.74" y="0.00" textLength="51.31" lengthAdjust="spacingAndGlyphs">λ</tspan><tspan x="-37.24" y="12.79" font-size="68.6" textLength="37.77" lengthAdjust="spacingAndGlyphs">0</tspan><tspan x="0.00" y="0.00">=1.299492µm</tspan></text>
<text transform="translate(1633.69 445.75) scale(0.5673 0.5046)" font-weight="700" fill="#1E00D2"><tspan x="-91.74" y="0.00" textLength="51.31" lengthAdjust="spacingAndGlyphs">λ</tspan><tspan x="-37.24" y="12.79" font-size="68.6" textLength="37.77" lengthAdjust="spacingAndGlyphs">0</tspan><tspan x="0.00" y="0.00">=1.312823µm</tspan></text>
<text transform="translate(1633.69 511.45) scale(0.5673 0.5046)" font-weight="700" fill="#EC009C"><tspan x="-91.74" y="0.00" textLength="51.31" lengthAdjust="spacingAndGlyphs">λ</tspan><tspan x="-37.24" y="12.79" font-size="68.6" textLength="37.77" lengthAdjust="spacingAndGlyphs">0</tspan><tspan x="0.00" y="0.00">=1.326425µm</tspan></text>
<text transform="translate(1751.84 671.5) scale(0.5577 0.5164)" font-weight="700" fill="#00B050"><tspan x="-0.00" y="0.00">T.E=96</tspan><tspan x="325.44" y="1.16" font-weight="400" textLength="75.28" lengthAdjust="spacingAndGlyphs">%</tspan></text>
<text transform="translate(1751.84 731.7) scale(0.5586 0.5164)" font-weight="700" fill="#C00000"><tspan x="-0.00" y="0.00">T.E=80</tspan><tspan x="324.93" y="1.16" font-weight="400" textLength="75.16" lengthAdjust="spacingAndGlyphs">%</tspan></text>
<text transform="translate(1751.84 793.5) scale(0.5586 0.5164)" font-weight="700" fill="#1E00D2"><tspan x="-0.00" y="0.00">T.E=92</tspan><tspan x="324.93" y="1.16" font-weight="400" textLength="75.16" lengthAdjust="spacingAndGlyphs">%</tspan></text>
<text transform="translate(1751.84 855.5) scale(0.5577 0.5164)" font-weight="700" fill="#EC009C"><tspan x="-0.00" y="0.00">T.E=93</tspan><tspan x="325.44" y="1.16" font-weight="400" textLength="75.28" lengthAdjust="spacingAndGlyphs">%</tspan></text>
</svg></body></html>
